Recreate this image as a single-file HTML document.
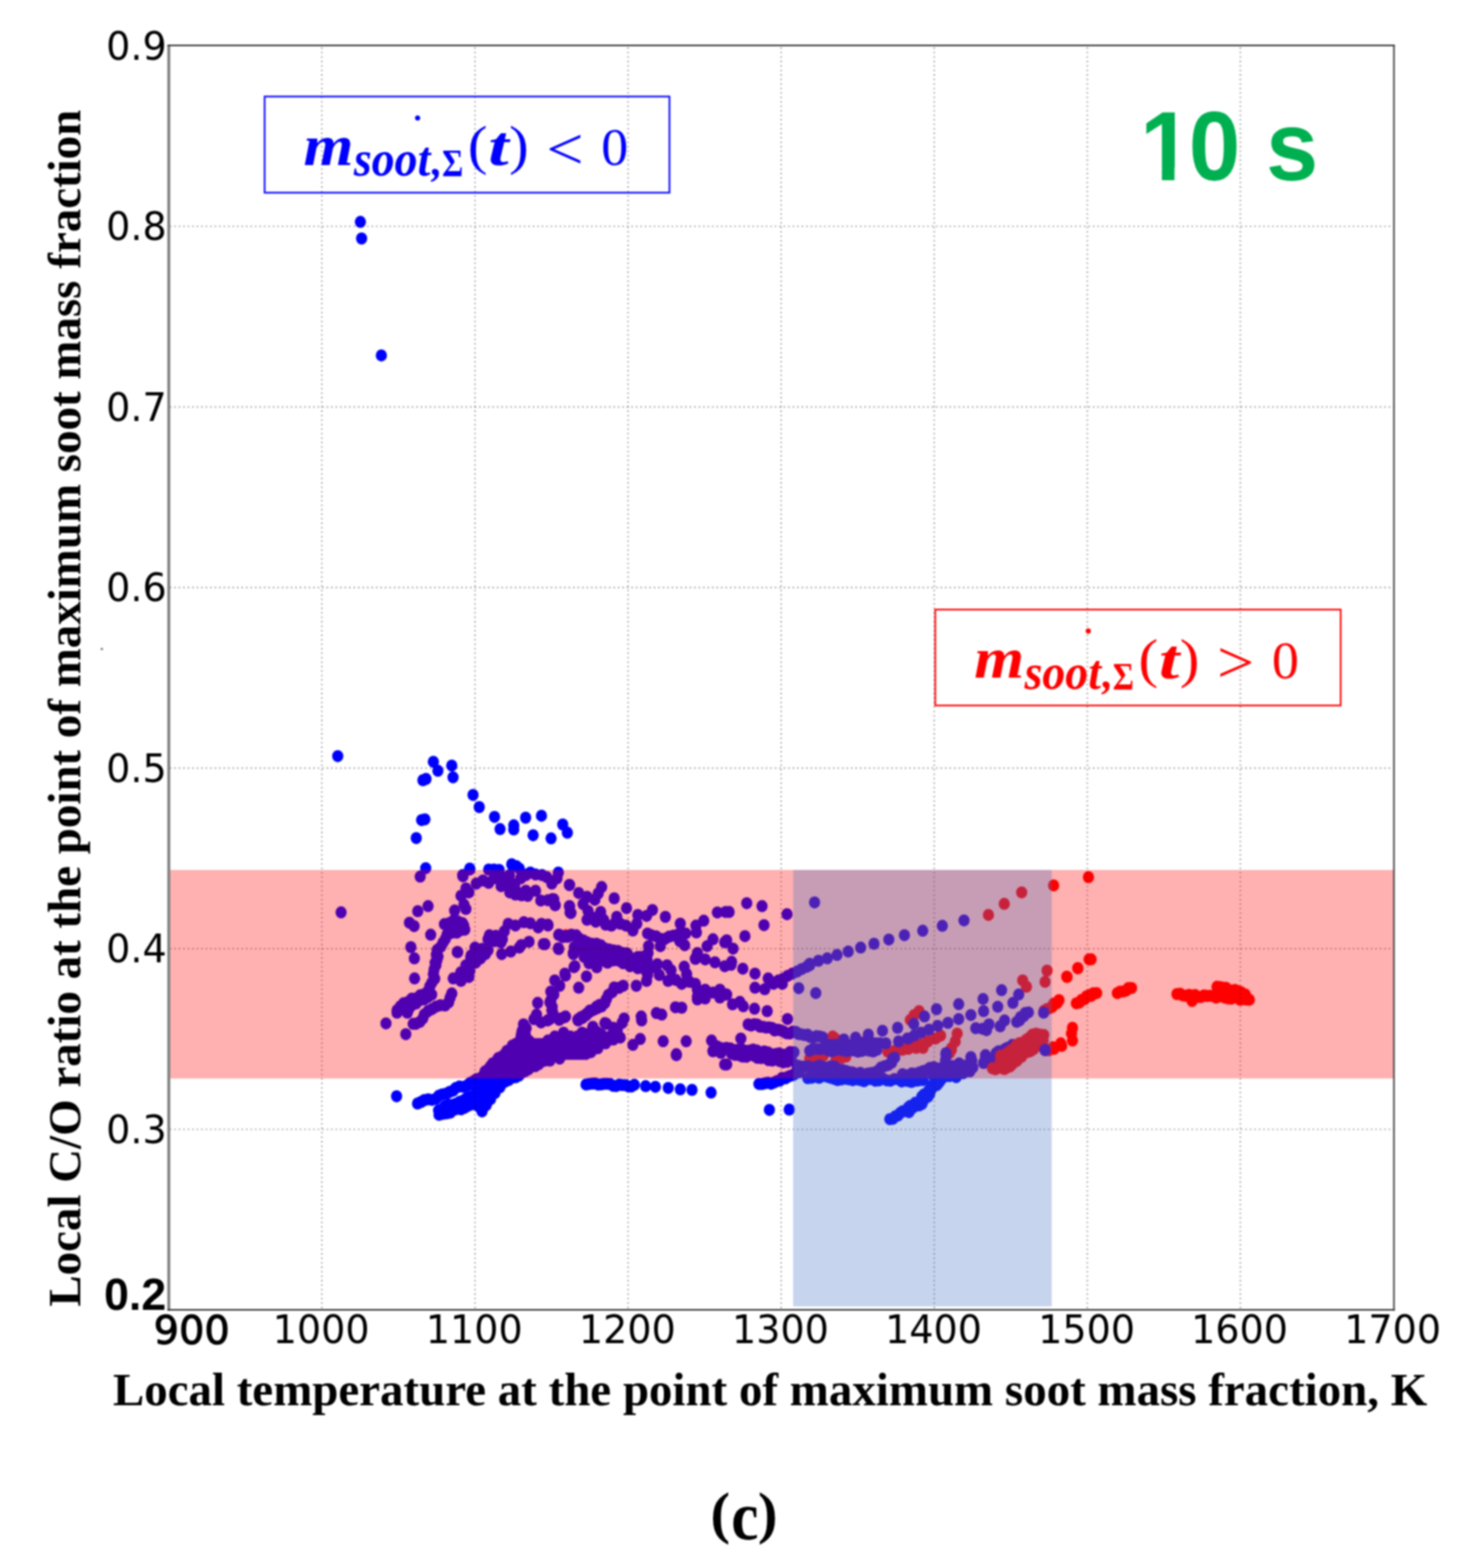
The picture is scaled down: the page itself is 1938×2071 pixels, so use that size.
<!DOCTYPE html>
<html lang="en"><head><meta charset="utf-8"><title>Local C/O ratio vs local temperature (c)</title>
<style>
html,body{margin:0;padding:0;background:#fff;}
body{width:1938px;height:2071px;overflow:hidden;}
svg{display:block;}
.tk{font-family:"DejaVu Sans","Liberation Sans",sans-serif;fill:#000;}
.tkb{font-family:"Liberation Sans","DejaVu Sans",sans-serif;font-weight:bold;fill:#000;}
.ax{font-family:"Liberation Serif","DejaVu Serif",serif;font-weight:bold;fill:#000;}
.mi{font-family:"Liberation Serif","DejaVu Serif",serif;font-weight:bold;font-style:italic;}
.mr{font-family:"Liberation Serif","DejaVu Serif",serif;}
.b{fill:#0000ff;}
.r{fill:#ff0000;}
</style></head><body>
<svg width="1938" height="2071" viewBox="0 0 1938 2071">
<defs><filter id="soft" x="0" y="0" width="1938" height="2071" filterUnits="userSpaceOnUse" color-interpolation-filters="sRGB"><feGaussianBlur stdDeviation="0.8"/></filter></defs>
<rect x="0" y="0" width="1938" height="2071" fill="#ffffff"/>
<g filter="url(#soft)">
<rect x="0" y="0" width="1938" height="2071" fill="#ffffff"/>
<g class="r"><ellipse cx="1305.8" cy="1208.4" rx="7.4" ry="8"/><ellipse cx="1326.7" cy="1193.8" rx="7.4" ry="8"/><ellipse cx="1349.7" cy="1178.7" rx="7.4" ry="8"/><ellipse cx="1391.9" cy="1169.4" rx="7.4" ry="8"/><ellipse cx="1437.9" cy="1158.5" rx="7.4" ry="8"/><ellipse cx="1441.5" cy="1267.1" rx="7.4" ry="8"/><ellipse cx="1423.9" cy="1278.7" rx="7.4" ry="8"/><ellipse cx="1409.2" cy="1290.0" rx="7.4" ry="8"/><ellipse cx="1383.2" cy="1282.0" rx="7.4" ry="8"/><ellipse cx="1380.6" cy="1296.8" rx="7.4" ry="8"/><ellipse cx="1351.0" cy="1294.9" rx="7.4" ry="8"/><ellipse cx="1356.1" cy="1303.3" rx="7.4" ry="8"/><ellipse cx="1409.7" cy="1290.4" rx="7.4" ry="8"/><ellipse cx="1423.9" cy="1278.8" rx="7.4" ry="8"/><ellipse cx="1438.7" cy="1267.2" rx="7.4" ry="8"/><ellipse cx="1416.8" cy="1357.5" rx="7.4" ry="8"/><ellipse cx="1415.5" cy="1365.2" rx="7.4" ry="8"/><ellipse cx="1416.8" cy="1374.3" rx="7.4" ry="8"/><ellipse cx="1401.3" cy="1378.1" rx="7.4" ry="8"/><ellipse cx="1391.0" cy="1383.3" rx="7.4" ry="8"/><ellipse cx="1385.8" cy="1387.2" rx="7.4" ry="8"/><ellipse cx="1264.5" cy="1365.2" rx="7.4" ry="8"/><ellipse cx="1261.9" cy="1375.5" rx="7.4" ry="8"/><ellipse cx="1256.8" cy="1384.6" rx="7.4" ry="8"/><ellipse cx="1254.2" cy="1391.0" rx="7.4" ry="8"/><ellipse cx="1214.2" cy="1335.5" rx="7.4" ry="8"/><ellipse cx="1207.7" cy="1340.7" rx="7.4" ry="8"/><ellipse cx="1202.6" cy="1347.2" rx="7.4" ry="8"/><ellipse cx="1242.6" cy="1367.8" rx="7.4" ry="8"/><ellipse cx="1236.1" cy="1371.7" rx="7.4" ry="8"/><ellipse cx="1225.8" cy="1375.5" rx="7.4" ry="8"/><ellipse cx="1215.5" cy="1379.4" rx="7.4" ry="8"/><ellipse cx="1205.2" cy="1382.0" rx="7.4" ry="8"/><ellipse cx="1200.0" cy="1384.6" rx="7.4" ry="8"/><ellipse cx="1574.8" cy="1322.0" rx="7.4" ry="8"/><ellipse cx="1069.7" cy="1398.2" rx="7.4" ry="8"/><ellipse cx="1078.7" cy="1396.9" rx="7.4" ry="8"/><ellipse cx="1087.7" cy="1394.3" rx="7.4" ry="8"/><ellipse cx="1104.5" cy="1399.5" rx="7.4" ry="8"/><ellipse cx="1112.3" cy="1396.9" rx="7.4" ry="8"/><ellipse cx="1117.4" cy="1395.6" rx="7.4" ry="8"/><ellipse cx="1172.9" cy="1389.2" rx="7.4" ry="8"/><ellipse cx="1181.9" cy="1387.9" rx="7.4" ry="8"/><ellipse cx="1192.3" cy="1386.6" rx="7.4" ry="8"/><ellipse cx="1200.0" cy="1385.3" rx="7.4" ry="8"/><ellipse cx="1256.8" cy="1386.6" rx="7.4" ry="8"/><ellipse cx="1200.0" cy="1384.0" rx="7.4" ry="8"/><ellipse cx="1210.3" cy="1384.0" rx="7.4" ry="8"/><ellipse cx="1219.4" cy="1384.0" rx="7.4" ry="8"/><ellipse cx="1392.3" cy="1385.3" rx="7.4" ry="8"/><ellipse cx="1402.6" cy="1381.4" rx="7.4" ry="8"/><ellipse cx="1100.0" cy="1369.1" rx="7.4" ry="8"/><ellipse cx="1103.2" cy="1371.7" rx="7.4" ry="8"/><ellipse cx="1131.6" cy="1378.1" rx="7.4" ry="8"/><ellipse cx="1136.8" cy="1376.8" rx="7.4" ry="8"/><ellipse cx="747.6" cy="1235.2" rx="7.4" ry="8"/><ellipse cx="1379.4" cy="1334.9" rx="7.4" ry="8"/><ellipse cx="1382.8" cy="1332.9" rx="7.4" ry="8"/><ellipse cx="1386.7" cy="1331.6" rx="7.4" ry="8"/><ellipse cx="1390.3" cy="1329.5" rx="7.4" ry="8"/><ellipse cx="1392.1" cy="1325.4" rx="7.4" ry="8"/><ellipse cx="1396.5" cy="1324.9" rx="7.4" ry="8"/><ellipse cx="1399.0" cy="1321.0" rx="7.4" ry="8"/><ellipse cx="1421.9" cy="1325.2" rx="7.4" ry="8"/><ellipse cx="1426.0" cy="1324.2" rx="7.4" ry="8"/><ellipse cx="1428.6" cy="1320.8" rx="7.4" ry="8"/><ellipse cx="1432.7" cy="1319.8" rx="7.4" ry="8"/><ellipse cx="1435.1" cy="1316.1" rx="7.4" ry="8"/><ellipse cx="1438.9" cy="1314.5" rx="7.4" ry="8"/><ellipse cx="1442.9" cy="1313.5" rx="7.4" ry="8"/><ellipse cx="1445.2" cy="1312.3" rx="7.4" ry="8"/><ellipse cx="1437.4" cy="1316.2" rx="7.4" ry="8"/><ellipse cx="1441.5" cy="1315.3" rx="7.4" ry="8"/><ellipse cx="1444.2" cy="1312.0" rx="7.4" ry="8"/><ellipse cx="1448.7" cy="1311.7" rx="7.4" ry="8"/><ellipse cx="1476.1" cy="1311.7" rx="7.4" ry="8"/><ellipse cx="1479.7" cy="1309.8" rx="7.4" ry="8"/><ellipse cx="1483.9" cy="1309.5" rx="7.4" ry="8"/><ellipse cx="1487.6" cy="1308.4" rx="7.4" ry="8"/><ellipse cx="1490.8" cy="1305.0" rx="7.4" ry="8"/><ellipse cx="1494.9" cy="1304.9" rx="7.4" ry="8"/><ellipse cx="1554.8" cy="1313.0" rx="7.4" ry="8"/><ellipse cx="1558.9" cy="1312.4" rx="7.4" ry="8"/><ellipse cx="1562.7" cy="1314.8" rx="7.4" ry="8"/><ellipse cx="1566.6" cy="1315.2" rx="7.4" ry="8"/><ellipse cx="1570.8" cy="1314.1" rx="7.4" ry="8"/><ellipse cx="1574.7" cy="1315.2" rx="7.4" ry="8"/><ellipse cx="1578.8" cy="1314.2" rx="7.4" ry="8"/><ellipse cx="1582.6" cy="1316.8" rx="7.4" ry="8"/><ellipse cx="1586.7" cy="1316.8" rx="7.4" ry="8"/><ellipse cx="1590.7" cy="1314.7" rx="7.4" ry="8"/><ellipse cx="1594.7" cy="1315.5" rx="7.4" ry="8"/><ellipse cx="1598.7" cy="1315.2" rx="7.4" ry="8"/><ellipse cx="1602.7" cy="1315.4" rx="7.4" ry="8"/><ellipse cx="1606.6" cy="1317.7" rx="7.4" ry="8"/><ellipse cx="1610.7" cy="1315.6" rx="7.4" ry="8"/><ellipse cx="1614.8" cy="1316.0" rx="7.4" ry="8"/><ellipse cx="1618.6" cy="1317.8" rx="7.4" ry="8"/><ellipse cx="1622.5" cy="1318.7" rx="7.4" ry="8"/><ellipse cx="1626.5" cy="1319.1" rx="7.4" ry="8"/><ellipse cx="1630.6" cy="1317.3" rx="7.4" ry="8"/><ellipse cx="1634.7" cy="1317.6" rx="7.4" ry="8"/><ellipse cx="1638.4" cy="1320.5" rx="7.4" ry="8"/><ellipse cx="1642.5" cy="1319.6" rx="7.4" ry="8"/><ellipse cx="1646.5" cy="1320.2" rx="7.4" ry="8"/><ellipse cx="1650.5" cy="1320.4" rx="7.4" ry="8"/><ellipse cx="1607.7" cy="1303.3" rx="7.4" ry="8"/><ellipse cx="1611.7" cy="1303.8" rx="7.4" ry="8"/><ellipse cx="1615.7" cy="1304.4" rx="7.4" ry="8"/><ellipse cx="1619.7" cy="1304.7" rx="7.4" ry="8"/><ellipse cx="1623.2" cy="1307.7" rx="7.4" ry="8"/><ellipse cx="1627.0" cy="1308.5" rx="7.4" ry="8"/><ellipse cx="1631.4" cy="1307.5" rx="7.4" ry="8"/><ellipse cx="1635.2" cy="1309.0" rx="7.4" ry="8"/><ellipse cx="1639.0" cy="1310.2" rx="7.4" ry="8"/><ellipse cx="1642.0" cy="1313.2" rx="7.4" ry="8"/><ellipse cx="1645.2" cy="1313.6" rx="7.4" ry="8"/></g>
<g class="b"><ellipse cx="476.1" cy="293.1" rx="7.4" ry="8"/><ellipse cx="477.7" cy="315.0" rx="7.4" ry="8"/><ellipse cx="503.8" cy="469.4" rx="7.4" ry="8"/><ellipse cx="450.6" cy="1205.1" rx="7.4" ry="8"/><ellipse cx="446.2" cy="998.7" rx="7.4" ry="8"/><ellipse cx="572.5" cy="1006.2" rx="7.4" ry="8"/><ellipse cx="578.5" cy="1018.1" rx="7.4" ry="8"/><ellipse cx="596.8" cy="1011.2" rx="7.4" ry="8"/><ellipse cx="598.5" cy="1026.7" rx="7.4" ry="8"/><ellipse cx="558.7" cy="1030.5" rx="7.4" ry="8"/><ellipse cx="562.8" cy="1028.8" rx="7.4" ry="8"/><ellipse cx="624.9" cy="1049.9" rx="7.4" ry="8"/><ellipse cx="633.1" cy="1066.0" rx="7.4" ry="8"/><ellipse cx="653.3" cy="1078.9" rx="7.4" ry="8"/><ellipse cx="660.6" cy="1095.1" rx="7.4" ry="8"/><ellipse cx="678.7" cy="1090.1" rx="7.4" ry="8"/><ellipse cx="678.7" cy="1095.5" rx="7.4" ry="8"/><ellipse cx="694.4" cy="1080.0" rx="7.4" ry="8"/><ellipse cx="715.3" cy="1077.4" rx="7.4" ry="8"/><ellipse cx="704.3" cy="1103.2" rx="7.4" ry="8"/><ellipse cx="728.0" cy="1107.3" rx="7.4" ry="8"/><ellipse cx="743.4" cy="1089.0" rx="7.4" ry="8"/><ellipse cx="749.5" cy="1099.8" rx="7.4" ry="8"/><ellipse cx="557.0" cy="1083.2" rx="7.4" ry="8"/><ellipse cx="561.3" cy="1082.2" rx="7.4" ry="8"/><ellipse cx="549.9" cy="1106.9" rx="7.4" ry="8"/><ellipse cx="562.4" cy="1146.7" rx="7.4" ry="8"/><ellipse cx="555.1" cy="1157.8" rx="7.4" ry="8"/><ellipse cx="565.5" cy="1196.8" rx="7.4" ry="8"/><ellipse cx="551.9" cy="1203.5" rx="7.4" ry="8"/><ellipse cx="540.9" cy="1218.7" rx="7.4" ry="8"/><ellipse cx="547.1" cy="1223.2" rx="7.4" ry="8"/><ellipse cx="569.0" cy="1234.6" rx="7.4" ry="8"/><ellipse cx="542.8" cy="1251.0" rx="7.4" ry="8"/><ellipse cx="547.4" cy="1265.8" rx="7.4" ry="8"/><ellipse cx="604.1" cy="1257.4" rx="7.4" ry="8"/><ellipse cx="620.6" cy="1148.4" rx="7.4" ry="8"/><ellipse cx="611.6" cy="1157.4" rx="7.4" ry="8"/><ellipse cx="615.5" cy="1173.5" rx="7.4" ry="8"/><ellipse cx="619.4" cy="1178.7" rx="7.4" ry="8"/><ellipse cx="609.0" cy="1183.2" rx="7.4" ry="8"/><ellipse cx="600.6" cy="1202.6" rx="7.4" ry="8"/><ellipse cx="615.5" cy="1200.6" rx="7.4" ry="8"/><ellipse cx="612.9" cy="1194.8" rx="7.4" ry="8"/><ellipse cx="596.1" cy="1225.2" rx="7.4" ry="8"/><ellipse cx="620.6" cy="1147.2" rx="7.4" ry="8"/><ellipse cx="611.2" cy="1155.8" rx="7.4" ry="8"/><ellipse cx="629.2" cy="1167.0" rx="7.4" ry="8"/><ellipse cx="638.0" cy="1163.0" rx="7.4" ry="8"/><ellipse cx="645.6" cy="1166.1" rx="7.4" ry="8"/><ellipse cx="645.6" cy="1148.5" rx="7.4" ry="8"/><ellipse cx="652.5" cy="1148.5" rx="7.4" ry="8"/><ellipse cx="659.4" cy="1148.9" rx="7.4" ry="8"/><ellipse cx="662.0" cy="1170.4" rx="7.4" ry="8"/><ellipse cx="669.0" cy="1164.0" rx="7.4" ry="8"/><ellipse cx="676.0" cy="1141.5" rx="7.4" ry="8"/><ellipse cx="682.0" cy="1144.0" rx="7.4" ry="8"/><ellipse cx="686.0" cy="1147.2" rx="7.4" ry="8"/><ellipse cx="673.0" cy="1156.0" rx="7.4" ry="8"/><ellipse cx="660.0" cy="1156.0" rx="7.4" ry="8"/><ellipse cx="680.9" cy="1181.6" rx="7.4" ry="8"/><ellipse cx="694.6" cy="1176.5" rx="7.4" ry="8"/><ellipse cx="697.2" cy="1183.3" rx="7.4" ry="8"/><ellipse cx="707.5" cy="1176.5" rx="7.4" ry="8"/><ellipse cx="714.4" cy="1189.4" rx="7.4" ry="8"/><ellipse cx="729.9" cy="1187.6" rx="7.4" ry="8"/><ellipse cx="733.3" cy="1195.4" rx="7.4" ry="8"/><ellipse cx="694.6" cy="1155.8" rx="7.4" ry="8"/><ellipse cx="700.6" cy="1152.4" rx="7.4" ry="8"/><ellipse cx="707.5" cy="1155.0" rx="7.4" ry="8"/><ellipse cx="716.1" cy="1155.8" rx="7.4" ry="8"/><ellipse cx="722.1" cy="1158.4" rx="7.4" ry="8"/><ellipse cx="729.0" cy="1167.0" rx="7.4" ry="8"/><ellipse cx="737.6" cy="1152.4" rx="7.4" ry="8"/><ellipse cx="735.9" cy="1160.1" rx="7.4" ry="8"/><ellipse cx="752.3" cy="1168.7" rx="7.4" ry="8"/><ellipse cx="752.3" cy="1197.1" rx="7.4" ry="8"/><ellipse cx="754.0" cy="1205.7" rx="7.4" ry="8"/><ellipse cx="653.0" cy="1160.0" rx="7.4" ry="8"/><ellipse cx="688.0" cy="1160.0" rx="7.4" ry="8"/><ellipse cx="680.0" cy="1168.0" rx="7.4" ry="8"/><ellipse cx="752.3" cy="1169.0" rx="7.4" ry="8"/><ellipse cx="764.5" cy="1179.4" rx="7.4" ry="8"/><ellipse cx="775.5" cy="1184.5" rx="7.4" ry="8"/><ellipse cx="794.8" cy="1171.6" rx="7.4" ry="8"/><ellipse cx="790.3" cy="1180.0" rx="7.4" ry="8"/><ellipse cx="785.8" cy="1188.4" rx="7.4" ry="8"/><ellipse cx="811.4" cy="1186.5" rx="7.4" ry="8"/><ellipse cx="827.7" cy="1199.4" rx="7.4" ry="8"/><ellipse cx="731.6" cy="1187.7" rx="7.4" ry="8"/><ellipse cx="733.5" cy="1195.5" rx="7.4" ry="8"/><ellipse cx="723.9" cy="1189.0" rx="7.4" ry="8"/><ellipse cx="752.3" cy="1196.8" rx="7.4" ry="8"/><ellipse cx="754.2" cy="1205.8" rx="7.4" ry="8"/><ellipse cx="770.3" cy="1194.2" rx="7.4" ry="8"/><ellipse cx="776.8" cy="1203.2" rx="7.4" ry="8"/><ellipse cx="775.5" cy="1214.8" rx="7.4" ry="8"/><ellipse cx="793.5" cy="1204.5" rx="7.4" ry="8"/><ellipse cx="797.4" cy="1214.8" rx="7.4" ry="8"/><ellipse cx="800.0" cy="1221.3" rx="7.4" ry="8"/><ellipse cx="814.8" cy="1211.0" rx="7.4" ry="8"/><ellipse cx="812.9" cy="1218.7" rx="7.4" ry="8"/><ellipse cx="827.1" cy="1222.6" rx="7.4" ry="8"/><ellipse cx="836.1" cy="1229.0" rx="7.4" ry="8"/><ellipse cx="841.3" cy="1220.0" rx="7.4" ry="8"/><ellipse cx="842.6" cy="1208.4" rx="7.4" ry="8"/><ellipse cx="854.2" cy="1209.7" rx="7.4" ry="8"/><ellipse cx="861.9" cy="1201.9" rx="7.4" ry="8"/><ellipse cx="879.0" cy="1211.0" rx="7.4" ry="8"/><ellipse cx="898.7" cy="1220.0" rx="7.4" ry="8"/><ellipse cx="929.7" cy="1216.1" rx="7.4" ry="8"/><ellipse cx="919.4" cy="1222.6" rx="7.4" ry="8"/><ellipse cx="920.0" cy="1231.6" rx="7.4" ry="8"/><ellipse cx="947.7" cy="1205.2" rx="7.4" ry="8"/><ellipse cx="958.7" cy="1204.5" rx="7.4" ry="8"/><ellipse cx="723.9" cy="1221.3" rx="7.4" ry="8"/><ellipse cx="738.1" cy="1253.5" rx="7.4" ry="8"/><ellipse cx="757.4" cy="1258.7" rx="7.4" ry="8"/><ellipse cx="856.8" cy="1249.7" rx="7.4" ry="8"/><ellipse cx="872.3" cy="1249.7" rx="7.4" ry="8"/><ellipse cx="941.9" cy="1240.6" rx="7.4" ry="8"/><ellipse cx="934.2" cy="1249.7" rx="7.4" ry="8"/><ellipse cx="957.4" cy="1244.5" rx="7.4" ry="8"/><ellipse cx="921.3" cy="1258.7" rx="7.4" ry="8"/><ellipse cx="918.7" cy="1266.5" rx="7.4" ry="8"/><ellipse cx="720.0" cy="1247.1" rx="7.4" ry="8"/><ellipse cx="784.5" cy="1212.3" rx="7.4" ry="8"/><ellipse cx="787.1" cy="1217.4" rx="7.4" ry="8"/><ellipse cx="807.7" cy="1222.6" rx="7.4" ry="8"/><ellipse cx="819.4" cy="1220.0" rx="7.4" ry="8"/><ellipse cx="898.1" cy="1243.2" rx="7.4" ry="8"/><ellipse cx="904.5" cy="1248.4" rx="7.4" ry="8"/><ellipse cx="986.5" cy="1192.9" rx="7.4" ry="8"/><ellipse cx="1006.7" cy="1196.8" rx="7.4" ry="8"/><ellipse cx="963.2" cy="1204.5" rx="7.4" ry="8"/><ellipse cx="1039.7" cy="1207.4" rx="7.4" ry="8"/><ellipse cx="1076.1" cy="1191.9" rx="7.4" ry="8"/><ellipse cx="1009.3" cy="1221.9" rx="7.4" ry="8"/><ellipse cx="984.1" cy="1236.4" rx="7.4" ry="8"/><ellipse cx="968.4" cy="1252.9" rx="7.4" ry="8"/><ellipse cx="960.0" cy="1241.9" rx="7.4" ry="8"/><ellipse cx="966.5" cy="1270.3" rx="7.4" ry="8"/><ellipse cx="1194.8" cy="1235.2" rx="7.4" ry="8"/><ellipse cx="1174.2" cy="1240.9" rx="7.4" ry="8"/><ellipse cx="1154.6" cy="1246.5" rx="7.4" ry="8"/><ellipse cx="1137.0" cy="1251.6" rx="7.4" ry="8"/><ellipse cx="1120.6" cy="1256.8" rx="7.4" ry="8"/><ellipse cx="1105.8" cy="1261.3" rx="7.4" ry="8"/><ellipse cx="1092.9" cy="1265.8" rx="7.4" ry="8"/><ellipse cx="1081.3" cy="1269.0" rx="7.4" ry="8"/><ellipse cx="1069.7" cy="1272.9" rx="7.4" ry="8"/><ellipse cx="1219.0" cy="1229.3" rx="7.4" ry="8"/><ellipse cx="1244.9" cy="1222.8" rx="7.4" ry="8"/><ellipse cx="1273.5" cy="1215.7" rx="7.4" ry="8"/><ellipse cx="547.7" cy="1292.3" rx="7.4" ry="8"/><ellipse cx="509.9" cy="1351.7" rx="7.4" ry="8"/><ellipse cx="536.1" cy="1365.9" rx="7.4" ry="8"/><ellipse cx="596.8" cy="1312.3" rx="7.4" ry="8"/><ellipse cx="710.3" cy="1324.6" rx="7.4" ry="8"/><ellipse cx="598.7" cy="1292.3" rx="7.4" ry="8"/><ellipse cx="609.0" cy="1295.5" rx="7.4" ry="8"/><ellipse cx="619.4" cy="1290.4" rx="7.4" ry="8"/><ellipse cx="620.6" cy="1282.6" rx="7.4" ry="8"/><ellipse cx="609.0" cy="1285.2" rx="7.4" ry="8"/><ellipse cx="615.5" cy="1274.9" rx="7.4" ry="8"/><ellipse cx="624.5" cy="1269.7" rx="7.4" ry="8"/><ellipse cx="634.8" cy="1265.9" rx="7.4" ry="8"/><ellipse cx="621.9" cy="1264.6" rx="7.4" ry="8"/><ellipse cx="632.3" cy="1262.0" rx="7.4" ry="8"/><ellipse cx="759.4" cy="1276.2" rx="7.4" ry="8"/><ellipse cx="774.8" cy="1289.7" rx="7.4" ry="8"/><ellipse cx="764.5" cy="1304.6" rx="7.4" ry="8"/><ellipse cx="747.1" cy="1288.5" rx="7.4" ry="8"/><ellipse cx="732.9" cy="1294.9" rx="7.4" ry="8"/><ellipse cx="739.4" cy="1302.0" rx="7.4" ry="8"/><ellipse cx="727.7" cy="1309.7" rx="7.4" ry="8"/><ellipse cx="731.6" cy="1313.6" rx="7.4" ry="8"/><ellipse cx="726.5" cy="1323.9" rx="7.4" ry="8"/><ellipse cx="729.0" cy="1334.3" rx="7.4" ry="8"/><ellipse cx="726.5" cy="1345.9" rx="7.4" ry="8"/><ellipse cx="840.6" cy="1302.0" rx="7.4" ry="8"/><ellipse cx="740.6" cy="1345.2" rx="7.4" ry="8"/><ellipse cx="747.1" cy="1342.6" rx="7.4" ry="8"/><ellipse cx="847.1" cy="1342.6" rx="7.4" ry="8"/><ellipse cx="847.7" cy="1347.8" rx="7.4" ry="8"/><ellipse cx="867.1" cy="1338.1" rx="7.4" ry="8"/><ellipse cx="874.2" cy="1340.1" rx="7.4" ry="8"/><ellipse cx="892.3" cy="1330.4" rx="7.4" ry="8"/><ellipse cx="900.6" cy="1331.0" rx="7.4" ry="8"/><ellipse cx="824.5" cy="1345.2" rx="7.4" ry="8"/><ellipse cx="821.9" cy="1351.0" rx="7.4" ry="8"/><ellipse cx="801.3" cy="1352.3" rx="7.4" ry="8"/><ellipse cx="810.3" cy="1357.5" rx="7.4" ry="8"/><ellipse cx="815.5" cy="1360.1" rx="7.4" ry="8"/><ellipse cx="783.2" cy="1356.2" rx="7.4" ry="8"/><ellipse cx="789.7" cy="1363.9" rx="7.4" ry="8"/><ellipse cx="769.0" cy="1363.9" rx="7.4" ry="8"/><ellipse cx="845.8" cy="1372.3" rx="7.4" ry="8"/><ellipse cx="836.1" cy="1380.1" rx="7.4" ry="8"/><ellipse cx="876.1" cy="1375.3" rx="7.4" ry="8"/><ellipse cx="906.5" cy="1375.3" rx="7.4" ry="8"/><ellipse cx="893.5" cy="1392.3" rx="7.4" ry="8"/><ellipse cx="940.0" cy="1374.3" rx="7.4" ry="8"/><ellipse cx="947.1" cy="1382.0" rx="7.4" ry="8"/><ellipse cx="953.5" cy="1384.6" rx="7.4" ry="8"/><ellipse cx="941.9" cy="1388.5" rx="7.4" ry="8"/><ellipse cx="918.7" cy="1265.9" rx="7.4" ry="8"/><ellipse cx="931.6" cy="1267.2" rx="7.4" ry="8"/><ellipse cx="944.5" cy="1271.0" rx="7.4" ry="8"/><ellipse cx="957.4" cy="1276.2" rx="7.4" ry="8"/><ellipse cx="778.1" cy="1272.3" rx="7.4" ry="8"/><ellipse cx="788.4" cy="1277.5" rx="7.4" ry="8"/><ellipse cx="797.4" cy="1268.5" rx="7.4" ry="8"/><ellipse cx="810.3" cy="1268.5" rx="7.4" ry="8"/><ellipse cx="823.2" cy="1272.3" rx="7.4" ry="8"/><ellipse cx="832.3" cy="1276.2" rx="7.4" ry="8"/><ellipse cx="842.6" cy="1278.8" rx="7.4" ry="8"/><ellipse cx="852.9" cy="1281.4" rx="7.4" ry="8"/><ellipse cx="855.5" cy="1287.8" rx="7.4" ry="8"/><ellipse cx="854.2" cy="1295.5" rx="7.4" ry="8"/><ellipse cx="868.4" cy="1273.6" rx="7.4" ry="8"/><ellipse cx="871.0" cy="1287.8" rx="7.4" ry="8"/><ellipse cx="881.3" cy="1274.9" rx="7.4" ry="8"/><ellipse cx="886.5" cy="1281.4" rx="7.4" ry="8"/><ellipse cx="882.6" cy="1295.5" rx="7.4" ry="8"/><ellipse cx="892.9" cy="1294.3" rx="7.4" ry="8"/><ellipse cx="903.9" cy="1276.8" rx="7.4" ry="8"/><ellipse cx="907.1" cy="1286.5" rx="7.4" ry="8"/><ellipse cx="900.6" cy="1299.4" rx="7.4" ry="8"/><ellipse cx="911.0" cy="1296.8" rx="7.4" ry="8"/><ellipse cx="918.7" cy="1299.4" rx="7.4" ry="8"/><ellipse cx="921.3" cy="1307.2" rx="7.4" ry="8"/><ellipse cx="921.3" cy="1316.2" rx="7.4" ry="8"/><ellipse cx="921.3" cy="1320.1" rx="7.4" ry="8"/><ellipse cx="931.6" cy="1307.2" rx="7.4" ry="8"/><ellipse cx="931.6" cy="1318.8" rx="7.4" ry="8"/><ellipse cx="941.9" cy="1311.0" rx="7.4" ry="8"/><ellipse cx="951.0" cy="1307.2" rx="7.4" ry="8"/><ellipse cx="951.0" cy="1317.5" rx="7.4" ry="8"/><ellipse cx="958.7" cy="1313.6" rx="7.4" ry="8"/><ellipse cx="784.5" cy="1264.6" rx="7.4" ry="8"/><ellipse cx="836.1" cy="1267.2" rx="7.4" ry="8"/><ellipse cx="849.0" cy="1269.7" rx="7.4" ry="8"/><ellipse cx="861.9" cy="1277.5" rx="7.4" ry="8"/><ellipse cx="744.5" cy="1363.9" rx="7.4" ry="8"/><ellipse cx="732.9" cy="1369.1" rx="7.4" ry="8"/><ellipse cx="723.9" cy="1374.3" rx="7.4" ry="8"/><ellipse cx="753.5" cy="1369.1" rx="7.4" ry="8"/><ellipse cx="762.6" cy="1369.1" rx="7.4" ry="8"/><ellipse cx="774.2" cy="1369.1" rx="7.4" ry="8"/><ellipse cx="787.1" cy="1371.7" rx="7.4" ry="8"/><ellipse cx="797.4" cy="1369.1" rx="7.4" ry="8"/><ellipse cx="807.7" cy="1367.8" rx="7.4" ry="8"/><ellipse cx="819.4" cy="1370.4" rx="7.4" ry="8"/><ellipse cx="800.0" cy="1378.1" rx="7.4" ry="8"/><ellipse cx="789.7" cy="1384.6" rx="7.4" ry="8"/><ellipse cx="780.6" cy="1389.7" rx="7.4" ry="8"/><ellipse cx="745.8" cy="1378.1" rx="7.4" ry="8"/><ellipse cx="732.9" cy="1384.6" rx="7.4" ry="8"/><ellipse cx="758.7" cy="1387.2" rx="7.4" ry="8"/><ellipse cx="771.6" cy="1391.0" rx="7.4" ry="8"/><ellipse cx="739.4" cy="1374.3" rx="7.4" ry="8"/><ellipse cx="727.7" cy="1380.7" rx="7.4" ry="8"/><ellipse cx="749.7" cy="1387.2" rx="7.4" ry="8"/><ellipse cx="778.1" cy="1380.7" rx="7.4" ry="8"/><ellipse cx="787.1" cy="1378.1" rx="7.4" ry="8"/><ellipse cx="810.3" cy="1373.0" rx="7.4" ry="8"/><ellipse cx="965.8" cy="1274.3" rx="7.4" ry="8"/><ellipse cx="981.3" cy="1279.4" rx="7.4" ry="8"/><ellipse cx="997.4" cy="1285.9" rx="7.4" ry="8"/><ellipse cx="1014.8" cy="1292.3" rx="7.4" ry="8"/><ellipse cx="997.4" cy="1304.6" rx="7.4" ry="8"/><ellipse cx="1010.3" cy="1306.5" rx="7.4" ry="8"/><ellipse cx="1021.9" cy="1299.4" rx="7.4" ry="8"/><ellipse cx="1033.5" cy="1299.4" rx="7.4" ry="8"/><ellipse cx="1055.2" cy="1305.2" rx="7.4" ry="8"/><ellipse cx="1077.7" cy="1311.7" rx="7.4" ry="8"/><ellipse cx="960.0" cy="1313.6" rx="7.4" ry="8"/><ellipse cx="967.7" cy="1326.5" rx="7.4" ry="8"/><ellipse cx="977.4" cy="1323.3" rx="7.4" ry="8"/><ellipse cx="981.9" cy="1329.1" rx="7.4" ry="8"/><ellipse cx="996.8" cy="1332.3" rx="7.4" ry="8"/><ellipse cx="1013.5" cy="1335.5" rx="7.4" ry="8"/><ellipse cx="1040.3" cy="1345.9" rx="7.4" ry="8"/><ellipse cx="978.7" cy="1371.7" rx="7.4" ry="8"/><ellipse cx="1114.8" cy="1373.0" rx="7.4" ry="8"/><ellipse cx="1130.3" cy="1370.4" rx="7.4" ry="8"/><ellipse cx="1147.1" cy="1366.5" rx="7.4" ry="8"/><ellipse cx="1165.8" cy="1361.4" rx="7.4" ry="8"/><ellipse cx="1185.8" cy="1357.5" rx="7.4" ry="8"/><ellipse cx="1170.3" cy="1378.1" rx="7.4" ry="8"/><ellipse cx="1187.1" cy="1375.5" rx="7.4" ry="8"/><ellipse cx="1198.7" cy="1371.7" rx="7.4" ry="8"/><ellipse cx="1207.1" cy="1352.3" rx="7.4" ry="8"/><ellipse cx="1221.3" cy="1342.6" rx="7.4" ry="8"/><ellipse cx="1237.2" cy="1333.0" rx="7.4" ry="8"/><ellipse cx="1266.5" cy="1326.3" rx="7.4" ry="8"/><ellipse cx="1298.7" cy="1319.4" rx="7.4" ry="8"/><ellipse cx="1323.2" cy="1307.8" rx="7.4" ry="8"/><ellipse cx="1345.8" cy="1313.6" rx="7.4" ry="8"/><ellipse cx="1338.1" cy="1324.6" rx="7.4" ry="8"/><ellipse cx="1318.1" cy="1329.7" rx="7.4" ry="8"/><ellipse cx="1299.4" cy="1335.5" rx="7.4" ry="8"/><ellipse cx="1282.6" cy="1340.7" rx="7.4" ry="8"/><ellipse cx="1266.5" cy="1345.9" rx="7.4" ry="8"/><ellipse cx="1252.3" cy="1351.0" rx="7.4" ry="8"/><ellipse cx="1238.7" cy="1354.9" rx="7.4" ry="8"/><ellipse cx="1227.1" cy="1360.1" rx="7.4" ry="8"/><ellipse cx="1216.8" cy="1363.9" rx="7.4" ry="8"/><ellipse cx="1207.7" cy="1367.8" rx="7.4" ry="8"/><ellipse cx="1200.0" cy="1371.7" rx="7.4" ry="8"/><ellipse cx="1289.0" cy="1358.1" rx="7.4" ry="8"/><ellipse cx="1298.1" cy="1358.8" rx="7.4" ry="8"/><ellipse cx="1303.2" cy="1360.7" rx="7.4" ry="8"/><ellipse cx="1306.5" cy="1353.0" rx="7.4" ry="8"/><ellipse cx="1321.3" cy="1355.5" rx="7.4" ry="8"/><ellipse cx="1327.1" cy="1347.8" rx="7.4" ry="8"/><ellipse cx="1378.7" cy="1337.5" rx="7.4" ry="8"/><ellipse cx="1249.7" cy="1391.0" rx="7.4" ry="8"/><ellipse cx="1301.9" cy="1393.6" rx="7.4" ry="8"/><ellipse cx="1282.6" cy="1396.2" rx="7.4" ry="8"/><ellipse cx="523.9" cy="1447.9" rx="7.4" ry="8"/><ellipse cx="852.9" cy="1434.6" rx="7.4" ry="8"/><ellipse cx="865.8" cy="1435.4" rx="7.4" ry="8"/><ellipse cx="882.8" cy="1436.9" rx="7.4" ry="8"/><ellipse cx="898.7" cy="1438.8" rx="7.4" ry="8"/><ellipse cx="914.2" cy="1439.5" rx="7.4" ry="8"/><ellipse cx="939.4" cy="1443.1" rx="7.4" ry="8"/><ellipse cx="893.5" cy="1393.7" rx="7.4" ry="8"/><ellipse cx="941.9" cy="1387.9" rx="7.4" ry="8"/><ellipse cx="952.3" cy="1390.5" rx="7.4" ry="8"/><ellipse cx="957.4" cy="1405.9" rx="7.4" ry="8"/><ellipse cx="726.5" cy="1400.8" rx="7.4" ry="8"/><ellipse cx="739.4" cy="1398.2" rx="7.4" ry="8"/><ellipse cx="758.7" cy="1390.5" rx="7.4" ry="8"/><ellipse cx="771.6" cy="1389.2" rx="7.4" ry="8"/><ellipse cx="784.5" cy="1384.0" rx="7.4" ry="8"/><ellipse cx="1016.4" cy="1465.9" rx="7.4" ry="8"/><ellipse cx="1042.6" cy="1465.5" rx="7.4" ry="8"/><ellipse cx="960.0" cy="1405.9" rx="7.4" ry="8"/><ellipse cx="1192.3" cy="1418.8" rx="7.4" ry="8"/><ellipse cx="1249.7" cy="1393.7" rx="7.4" ry="8"/><ellipse cx="1249.0" cy="1400.8" rx="7.4" ry="8"/><ellipse cx="1232.3" cy="1419.5" rx="7.4" ry="8"/><ellipse cx="1263.2" cy="1414.3" rx="7.4" ry="8"/><ellipse cx="1267.1" cy="1404.6" rx="7.4" ry="8"/><ellipse cx="1276.1" cy="1407.2" rx="7.4" ry="8"/><ellipse cx="1283.9" cy="1400.8" rx="7.4" ry="8"/><ellipse cx="1285.2" cy="1409.8" rx="7.4" ry="8"/><ellipse cx="1301.9" cy="1396.9" rx="7.4" ry="8"/><ellipse cx="1299.4" cy="1404.0" rx="7.4" ry="8"/><ellipse cx="1263.2" cy="1422.7" rx="7.4" ry="8"/><ellipse cx="1254.2" cy="1421.4" rx="7.4" ry="8"/><ellipse cx="1246.5" cy="1422.7" rx="7.4" ry="8"/><ellipse cx="1272.3" cy="1417.5" rx="7.4" ry="8"/><ellipse cx="1281.3" cy="1415.0" rx="7.4" ry="8"/><ellipse cx="671.4" cy="1220.2" rx="7.4" ry="8"/><ellipse cx="680.9" cy="1222.4" rx="7.4" ry="8"/><ellipse cx="692.0" cy="1218.1" rx="7.4" ry="8"/><ellipse cx="700.6" cy="1219.4" rx="7.4" ry="8"/><ellipse cx="711.0" cy="1224.9" rx="7.4" ry="8"/><ellipse cx="715.3" cy="1220.2" rx="7.4" ry="8"/><ellipse cx="723.9" cy="1222.4" rx="7.4" ry="8"/><ellipse cx="646.5" cy="1235.3" rx="7.4" ry="8"/><ellipse cx="655.1" cy="1236.1" rx="7.4" ry="8"/><ellipse cx="644.7" cy="1240.4" rx="7.4" ry="8"/><ellipse cx="653.3" cy="1243.0" rx="7.4" ry="8"/><ellipse cx="663.7" cy="1240.4" rx="7.4" ry="8"/><ellipse cx="666.2" cy="1230.1" rx="7.4" ry="8"/><ellipse cx="661.9" cy="1244.7" rx="7.4" ry="8"/><ellipse cx="627.5" cy="1251.6" rx="7.4" ry="8"/><ellipse cx="637.0" cy="1253.3" rx="7.4" ry="8"/><ellipse cx="644.7" cy="1255.1" rx="7.4" ry="8"/><ellipse cx="622.4" cy="1261.9" rx="7.4" ry="8"/><ellipse cx="632.7" cy="1263.7" rx="7.4" ry="8"/><ellipse cx="641.3" cy="1260.2" rx="7.4" ry="8"/><ellipse cx="619.8" cy="1273.1" rx="7.4" ry="8"/><ellipse cx="628.4" cy="1271.4" rx="7.4" ry="8"/><ellipse cx="617.2" cy="1281.7" rx="7.4" ry="8"/><ellipse cx="608.6" cy="1284.3" rx="7.4" ry="8"/><ellipse cx="662.8" cy="1260.2" rx="7.4" ry="8"/><ellipse cx="674.8" cy="1256.8" rx="7.4" ry="8"/><ellipse cx="686.0" cy="1251.6" rx="7.4" ry="8"/><ellipse cx="688.6" cy="1248.2" rx="7.4" ry="8"/><ellipse cx="698.9" cy="1243.9" rx="7.4" ry="8"/><ellipse cx="717.8" cy="1246.9" rx="7.4" ry="8"/><ellipse cx="738.5" cy="1234.4" rx="7.4" ry="8"/><ellipse cx="746.2" cy="1237.0" rx="7.4" ry="8"/><ellipse cx="754.8" cy="1234.4" rx="7.4" ry="8"/><ellipse cx="737.6" cy="1252.5" rx="7.4" ry="8"/><ellipse cx="759.1" cy="1251.6" rx="7.4" ry="8"/><ellipse cx="757.4" cy="1260.2" rx="7.4" ry="8"/><ellipse cx="611.2" cy="1219.8" rx="7.4" ry="8"/><ellipse cx="608.6" cy="1228.4" rx="7.4" ry="8"/><ellipse cx="603.4" cy="1231.8" rx="7.4" ry="8"/><ellipse cx="604.7" cy="1257.6" rx="7.4" ry="8"/><ellipse cx="753.1" cy="1205.2" rx="7.4" ry="8"/><ellipse cx="758.3" cy="1277.4" rx="7.4" ry="8"/><ellipse cx="746.2" cy="1286.0" rx="7.4" ry="8"/><ellipse cx="671.0" cy="1165.8" rx="7.4" ry="8"/><ellipse cx="681.3" cy="1176.1" rx="7.4" ry="8"/><ellipse cx="689.0" cy="1182.6" rx="7.4" ry="8"/><ellipse cx="673.5" cy="1178.7" rx="7.4" ry="8"/><ellipse cx="694.2" cy="1155.5" rx="7.4" ry="8"/><ellipse cx="758.7" cy="1251.0" rx="7.4" ry="8"/><ellipse cx="769.0" cy="1253.5" rx="7.4" ry="8"/><ellipse cx="778.1" cy="1256.1" rx="7.4" ry="8"/><ellipse cx="788.4" cy="1260.0" rx="7.4" ry="8"/><ellipse cx="797.4" cy="1263.9" rx="7.4" ry="8"/><ellipse cx="807.7" cy="1266.5" rx="7.4" ry="8"/><ellipse cx="818.1" cy="1269.0" rx="7.4" ry="8"/><ellipse cx="771.6" cy="1263.9" rx="7.4" ry="8"/><ellipse cx="781.9" cy="1269.0" rx="7.4" ry="8"/><ellipse cx="836.1" cy="1269.0" rx="7.4" ry="8"/><ellipse cx="842.6" cy="1263.9" rx="7.4" ry="8"/><ellipse cx="849.0" cy="1269.0" rx="7.4" ry="8"/><ellipse cx="828.4" cy="1269.0" rx="7.4" ry="8"/><ellipse cx="792.3" cy="1269.0" rx="7.4" ry="8"/><ellipse cx="802.6" cy="1271.6" rx="7.4" ry="8"/><ellipse cx="729.5" cy="1312.6" rx="7.4" ry="8"/><ellipse cx="727.7" cy="1321.2" rx="7.4" ry="8"/><ellipse cx="729.5" cy="1329.8" rx="7.4" ry="8"/><ellipse cx="730.3" cy="1337.5" rx="7.4" ry="8"/><ellipse cx="745.8" cy="1343.5" rx="7.4" ry="8"/><ellipse cx="738.9" cy="1347.0" rx="7.4" ry="8"/><ellipse cx="708.8" cy="1340.1" rx="7.4" ry="8"/><ellipse cx="705.4" cy="1346.1" rx="7.4" ry="8"/><ellipse cx="714.8" cy="1350.4" rx="7.4" ry="8"/><ellipse cx="723.4" cy="1347.8" rx="7.4" ry="8"/><ellipse cx="691.6" cy="1353.0" rx="7.4" ry="8"/><ellipse cx="689.9" cy="1361.6" rx="7.4" ry="8"/><ellipse cx="695.1" cy="1358.2" rx="7.4" ry="8"/><ellipse cx="688.2" cy="1370.2" rx="7.4" ry="8"/><ellipse cx="782.8" cy="1358.2" rx="7.4" ry="8"/><ellipse cx="769.0" cy="1365.9" rx="7.4" ry="8"/><ellipse cx="799.1" cy="1351.3" rx="7.4" ry="8"/><ellipse cx="638.7" cy="1451.1" rx="7.4" ry="8"/><ellipse cx="643.9" cy="1443.4" rx="7.4" ry="8"/><ellipse cx="647.7" cy="1436.9" rx="7.4" ry="8"/><ellipse cx="634.8" cy="1456.3" rx="7.4" ry="8"/><ellipse cx="632.3" cy="1461.4" rx="7.4" ry="8"/><ellipse cx="856.1" cy="1258.7" rx="7.4" ry="8"/><ellipse cx="854.8" cy="1267.7" rx="7.4" ry="8"/><ellipse cx="847.1" cy="1263.9" rx="7.4" ry="8"/><ellipse cx="746.5" cy="1236.6" rx="7.4" ry="8"/><ellipse cx="587.1" cy="1220.6" rx="7.4" ry="8"/><ellipse cx="593.0" cy="1219.4" rx="7.4" ry="8"/><ellipse cx="598.4" cy="1216.4" rx="7.4" ry="8"/><ellipse cx="604.7" cy="1217.0" rx="7.4" ry="8"/><ellipse cx="610.6" cy="1219.3" rx="7.4" ry="8"/><ellipse cx="612.7" cy="1223.0" rx="7.4" ry="8"/><ellipse cx="614.0" cy="1227.9" rx="7.4" ry="8"/><ellipse cx="608.0" cy="1228.5" rx="7.4" ry="8"/><ellipse cx="602.1" cy="1229.8" rx="7.4" ry="8"/><ellipse cx="596.5" cy="1232.2" rx="7.4" ry="8"/><ellipse cx="590.6" cy="1234.2" rx="7.4" ry="8"/><ellipse cx="588.4" cy="1240.2" rx="7.4" ry="8"/><ellipse cx="585.2" cy="1245.1" rx="7.4" ry="8"/><ellipse cx="582.4" cy="1250.3" rx="7.4" ry="8"/><ellipse cx="577.6" cy="1254.6" rx="7.4" ry="8"/><ellipse cx="576.4" cy="1260.8" rx="7.4" ry="8"/><ellipse cx="577.3" cy="1267.0" rx="7.4" ry="8"/><ellipse cx="574.8" cy="1271.6" rx="7.4" ry="8"/><ellipse cx="738.1" cy="1234.8" rx="7.4" ry="8"/><ellipse cx="743.5" cy="1237.7" rx="7.4" ry="8"/><ellipse cx="749.8" cy="1237.3" rx="7.4" ry="8"/><ellipse cx="755.1" cy="1235.4" rx="7.4" ry="8"/><ellipse cx="761.3" cy="1235.3" rx="7.4" ry="8"/><ellipse cx="765.0" cy="1239.5" rx="7.4" ry="8"/><ellipse cx="770.5" cy="1241.9" rx="7.4" ry="8"/><ellipse cx="775.9" cy="1244.8" rx="7.4" ry="8"/><ellipse cx="781.5" cy="1246.6" rx="7.4" ry="8"/><ellipse cx="788.0" cy="1246.4" rx="7.4" ry="8"/><ellipse cx="793.6" cy="1248.5" rx="7.4" ry="8"/><ellipse cx="798.6" cy="1252.4" rx="7.4" ry="8"/><ellipse cx="804.4" cy="1253.9" rx="7.4" ry="8"/><ellipse cx="810.3" cy="1255.3" rx="7.4" ry="8"/><ellipse cx="816.3" cy="1256.1" rx="7.4" ry="8"/><ellipse cx="821.5" cy="1258.4" rx="7.4" ry="8"/><ellipse cx="827.9" cy="1259.0" rx="7.4" ry="8"/><ellipse cx="829.7" cy="1261.3" rx="7.4" ry="8"/><ellipse cx="855.5" cy="1232.9" rx="7.4" ry="8"/><ellipse cx="861.0" cy="1235.4" rx="7.4" ry="8"/><ellipse cx="866.8" cy="1236.7" rx="7.4" ry="8"/><ellipse cx="872.2" cy="1239.9" rx="7.4" ry="8"/><ellipse cx="878.5" cy="1240.1" rx="7.4" ry="8"/><ellipse cx="884.2" cy="1237.0" rx="7.4" ry="8"/><ellipse cx="889.9" cy="1235.7" rx="7.4" ry="8"/><ellipse cx="895.7" cy="1234.3" rx="7.4" ry="8"/><ellipse cx="901.9" cy="1234.2" rx="7.4" ry="8"/><ellipse cx="905.8" cy="1232.9" rx="7.4" ry="8"/><ellipse cx="578.7" cy="1263.3" rx="7.4" ry="8"/><ellipse cx="576.9" cy="1269.0" rx="7.4" ry="8"/><ellipse cx="575.9" cy="1274.7" rx="7.4" ry="8"/><ellipse cx="573.4" cy="1280.5" rx="7.4" ry="8"/><ellipse cx="572.5" cy="1286.4" rx="7.4" ry="8"/><ellipse cx="574.3" cy="1292.6" rx="7.4" ry="8"/><ellipse cx="570.5" cy="1297.8" rx="7.4" ry="8"/><ellipse cx="567.8" cy="1302.8" rx="7.4" ry="8"/><ellipse cx="565.7" cy="1308.8" rx="7.4" ry="8"/><ellipse cx="560.9" cy="1313.0" rx="7.4" ry="8"/><ellipse cx="555.1" cy="1314.6" rx="7.4" ry="8"/><ellipse cx="550.3" cy="1318.6" rx="7.4" ry="8"/><ellipse cx="543.9" cy="1319.1" rx="7.4" ry="8"/><ellipse cx="539.3" cy="1323.3" rx="7.4" ry="8"/><ellipse cx="533.4" cy="1325.0" rx="7.4" ry="8"/><ellipse cx="528.8" cy="1329.3" rx="7.4" ry="8"/><ellipse cx="524.7" cy="1334.2" rx="7.4" ry="8"/><ellipse cx="524.5" cy="1337.5" rx="7.4" ry="8"/><ellipse cx="570.3" cy="1313.6" rx="7.4" ry="8"/><ellipse cx="565.3" cy="1316.9" rx="7.4" ry="8"/><ellipse cx="560.1" cy="1320.1" rx="7.4" ry="8"/><ellipse cx="554.0" cy="1321.2" rx="7.4" ry="8"/><ellipse cx="549.8" cy="1325.3" rx="7.4" ry="8"/><ellipse cx="543.9" cy="1327.9" rx="7.4" ry="8"/><ellipse cx="540.0" cy="1332.7" rx="7.4" ry="8"/><ellipse cx="538.1" cy="1337.5" rx="7.4" ry="8"/><ellipse cx="596.8" cy="1312.3" rx="7.4" ry="8"/><ellipse cx="594.6" cy="1317.9" rx="7.4" ry="8"/><ellipse cx="592.7" cy="1323.8" rx="7.4" ry="8"/><ellipse cx="588.0" cy="1328.0" rx="7.4" ry="8"/><ellipse cx="581.6" cy="1327.8" rx="7.4" ry="8"/><ellipse cx="575.9" cy="1329.6" rx="7.4" ry="8"/><ellipse cx="570.6" cy="1332.8" rx="7.4" ry="8"/><ellipse cx="565.3" cy="1335.6" rx="7.4" ry="8"/><ellipse cx="560.6" cy="1339.9" rx="7.4" ry="8"/><ellipse cx="558.6" cy="1345.1" rx="7.4" ry="8"/><ellipse cx="554.7" cy="1349.7" rx="7.4" ry="8"/><ellipse cx="549.2" cy="1352.3" rx="7.4" ry="8"/><ellipse cx="545.8" cy="1352.3" rx="7.4" ry="8"/><ellipse cx="823.2" cy="1302.0" rx="7.4" ry="8"/><ellipse cx="817.8" cy="1304.8" rx="7.4" ry="8"/><ellipse cx="811.4" cy="1304.2" rx="7.4" ry="8"/><ellipse cx="808.9" cy="1310.3" rx="7.4" ry="8"/><ellipse cx="803.7" cy="1314.1" rx="7.4" ry="8"/><ellipse cx="801.0" cy="1319.7" rx="7.4" ry="8"/><ellipse cx="799.1" cy="1324.6" rx="7.4" ry="8"/><ellipse cx="794.7" cy="1329.3" rx="7.4" ry="8"/><ellipse cx="789.1" cy="1331.7" rx="7.4" ry="8"/><ellipse cx="783.8" cy="1333.9" rx="7.4" ry="8"/><ellipse cx="778.6" cy="1336.9" rx="7.4" ry="8"/><ellipse cx="774.2" cy="1341.0" rx="7.4" ry="8"/><ellipse cx="769.4" cy="1344.7" rx="7.4" ry="8"/><ellipse cx="763.4" cy="1346.6" rx="7.4" ry="8"/><ellipse cx="1021.9" cy="1298.1" rx="7.4" ry="8"/><ellipse cx="1028.3" cy="1295.1" rx="7.4" ry="8"/><ellipse cx="1034.5" cy="1292.7" rx="7.4" ry="8"/><ellipse cx="1040.6" cy="1288.9" rx="7.4" ry="8"/><ellipse cx="1046.5" cy="1286.1" rx="7.4" ry="8"/><ellipse cx="1052.9" cy="1283.3" rx="7.4" ry="8"/><ellipse cx="1059.1" cy="1279.9" rx="7.4" ry="8"/><ellipse cx="1065.5" cy="1277.1" rx="7.4" ry="8"/><ellipse cx="1069.7" cy="1274.9" rx="7.4" ry="8"/><ellipse cx="988.4" cy="1353.0" rx="7.4" ry="8"/><ellipse cx="992.2" cy="1354.6" rx="7.4" ry="8"/><ellipse cx="996.5" cy="1352.7" rx="7.4" ry="8"/><ellipse cx="1000.5" cy="1353.3" rx="7.4" ry="8"/><ellipse cx="1004.1" cy="1356.0" rx="7.4" ry="8"/><ellipse cx="1008.1" cy="1356.2" rx="7.4" ry="8"/><ellipse cx="1012.0" cy="1357.2" rx="7.4" ry="8"/><ellipse cx="1016.2" cy="1356.9" rx="7.4" ry="8"/><ellipse cx="1020.1" cy="1357.8" rx="7.4" ry="8"/><ellipse cx="1023.4" cy="1361.1" rx="7.4" ry="8"/><ellipse cx="1027.7" cy="1360.1" rx="7.4" ry="8"/><ellipse cx="1031.6" cy="1361.1" rx="7.4" ry="8"/><ellipse cx="1035.4" cy="1362.6" rx="7.4" ry="8"/><ellipse cx="1039.0" cy="1364.7" rx="7.4" ry="8"/><ellipse cx="1043.2" cy="1365.0" rx="7.4" ry="8"/><ellipse cx="1047.2" cy="1362.6" rx="7.4" ry="8"/><ellipse cx="1051.5" cy="1362.9" rx="7.4" ry="8"/><ellipse cx="1054.8" cy="1365.8" rx="7.4" ry="8"/><ellipse cx="1058.9" cy="1366.2" rx="7.4" ry="8"/><ellipse cx="1062.8" cy="1367.2" rx="7.4" ry="8"/><ellipse cx="1066.9" cy="1366.6" rx="7.4" ry="8"/><ellipse cx="1070.4" cy="1369.7" rx="7.4" ry="8"/><ellipse cx="1074.5" cy="1370.2" rx="7.4" ry="8"/><ellipse cx="1078.7" cy="1368.6" rx="7.4" ry="8"/><ellipse cx="1082.7" cy="1369.1" rx="7.4" ry="8"/><ellipse cx="1086.6" cy="1370.0" rx="7.4" ry="8"/><ellipse cx="1343.2" cy="1349.7" rx="7.4" ry="8"/><ellipse cx="1346.9" cy="1347.7" rx="7.4" ry="8"/><ellipse cx="1348.1" cy="1343.4" rx="7.4" ry="8"/><ellipse cx="1352.6" cy="1342.2" rx="7.4" ry="8"/><ellipse cx="1354.3" cy="1338.1" rx="7.4" ry="8"/><ellipse cx="1358.6" cy="1337.2" rx="7.4" ry="8"/><ellipse cx="1316.1" cy="1391.0" rx="7.4" ry="8"/><ellipse cx="1319.3" cy="1388.4" rx="7.4" ry="8"/><ellipse cx="1323.9" cy="1388.6" rx="7.4" ry="8"/><ellipse cx="1327.2" cy="1386.2" rx="7.4" ry="8"/><ellipse cx="1330.6" cy="1384.1" rx="7.4" ry="8"/><ellipse cx="1334.6" cy="1383.6" rx="7.4" ry="8"/><ellipse cx="1337.6" cy="1380.0" rx="7.4" ry="8"/><ellipse cx="551.6" cy="1457.5" rx="7.4" ry="8"/><ellipse cx="556.2" cy="1455.5" rx="7.4" ry="8"/><ellipse cx="560.6" cy="1453.0" rx="7.4" ry="8"/><ellipse cx="565.6" cy="1451.9" rx="7.4" ry="8"/><ellipse cx="570.8" cy="1452.7" rx="7.4" ry="8"/><ellipse cx="575.8" cy="1451.3" rx="7.4" ry="8"/><ellipse cx="579.6" cy="1447.3" rx="7.4" ry="8"/><ellipse cx="584.2" cy="1445.5" rx="7.4" ry="8"/><ellipse cx="589.3" cy="1444.6" rx="7.4" ry="8"/><ellipse cx="593.7" cy="1442.3" rx="7.4" ry="8"/><ellipse cx="598.4" cy="1440.6" rx="7.4" ry="8"/><ellipse cx="602.3" cy="1436.9" rx="7.4" ry="8"/><ellipse cx="607.0" cy="1435.0" rx="7.4" ry="8"/><ellipse cx="612.5" cy="1435.6" rx="7.4" ry="8"/><ellipse cx="617.2" cy="1433.6" rx="7.4" ry="8"/><ellipse cx="621.2" cy="1430.2" rx="7.4" ry="8"/><ellipse cx="625.6" cy="1428.1" rx="7.4" ry="8"/><ellipse cx="629.7" cy="1425.2" rx="7.4" ry="8"/><ellipse cx="634.9" cy="1424.1" rx="7.4" ry="8"/><ellipse cx="638.8" cy="1420.5" rx="7.4" ry="8"/><ellipse cx="640.6" cy="1415.3" rx="7.4" ry="8"/><ellipse cx="644.9" cy="1412.5" rx="7.4" ry="8"/><ellipse cx="647.9" cy="1408.5" rx="7.4" ry="8"/><ellipse cx="650.9" cy="1404.5" rx="7.4" ry="8"/><ellipse cx="655.8" cy="1402.1" rx="7.4" ry="8"/><ellipse cx="658.2" cy="1397.6" rx="7.4" ry="8"/><ellipse cx="663.0" cy="1395.5" rx="7.4" ry="8"/><ellipse cx="666.9" cy="1392.3" rx="7.4" ry="8"/><ellipse cx="669.7" cy="1387.9" rx="7.4" ry="8"/><ellipse cx="674.4" cy="1385.7" rx="7.4" ry="8"/><ellipse cx="676.9" cy="1380.9" rx="7.4" ry="8"/><ellipse cx="681.3" cy="1378.8" rx="7.4" ry="8"/><ellipse cx="579.4" cy="1466.6" rx="7.4" ry="8"/><ellipse cx="584.2" cy="1465.2" rx="7.4" ry="8"/><ellipse cx="587.7" cy="1460.9" rx="7.4" ry="8"/><ellipse cx="592.5" cy="1459.0" rx="7.4" ry="8"/><ellipse cx="597.9" cy="1459.3" rx="7.4" ry="8"/><ellipse cx="602.6" cy="1457.7" rx="7.4" ry="8"/><ellipse cx="607.1" cy="1455.3" rx="7.4" ry="8"/><ellipse cx="611.8" cy="1453.8" rx="7.4" ry="8"/><ellipse cx="616.0" cy="1450.8" rx="7.4" ry="8"/><ellipse cx="620.4" cy="1448.8" rx="7.4" ry="8"/><ellipse cx="625.8" cy="1447.8" rx="7.4" ry="8"/><ellipse cx="628.5" cy="1443.0" rx="7.4" ry="8"/><ellipse cx="632.7" cy="1440.4" rx="7.4" ry="8"/><ellipse cx="636.3" cy="1436.9" rx="7.4" ry="8"/><ellipse cx="639.8" cy="1433.2" rx="7.4" ry="8"/><ellipse cx="645.1" cy="1431.8" rx="7.4" ry="8"/><ellipse cx="648.7" cy="1428.4" rx="7.4" ry="8"/><ellipse cx="652.1" cy="1424.6" rx="7.4" ry="8"/><ellipse cx="655.8" cy="1421.1" rx="7.4" ry="8"/><ellipse cx="660.1" cy="1418.4" rx="7.4" ry="8"/><ellipse cx="665.7" cy="1418.3" rx="7.4" ry="8"/><ellipse cx="670.1" cy="1415.8" rx="7.4" ry="8"/><ellipse cx="673.5" cy="1411.7" rx="7.4" ry="8"/><ellipse cx="677.8" cy="1409.1" rx="7.4" ry="8"/><ellipse cx="682.2" cy="1406.8" rx="7.4" ry="8"/><ellipse cx="687.5" cy="1406.1" rx="7.4" ry="8"/><ellipse cx="692.0" cy="1404.1" rx="7.4" ry="8"/><ellipse cx="695.6" cy="1399.9" rx="7.4" ry="8"/><ellipse cx="700.0" cy="1397.7" rx="7.4" ry="8"/><ellipse cx="705.5" cy="1397.5" rx="7.4" ry="8"/><ellipse cx="709.5" cy="1394.3" rx="7.4" ry="8"/><ellipse cx="714.2" cy="1392.6" rx="7.4" ry="8"/><ellipse cx="718.6" cy="1390.1" rx="7.4" ry="8"/><ellipse cx="580.0" cy="1472.4" rx="7.4" ry="8"/><ellipse cx="584.9" cy="1471.2" rx="7.4" ry="8"/><ellipse cx="589.9" cy="1470.6" rx="7.4" ry="8"/><ellipse cx="594.8" cy="1469.6" rx="7.4" ry="8"/><ellipse cx="599.1" cy="1466.1" rx="7.4" ry="8"/><ellipse cx="603.8" cy="1464.7" rx="7.4" ry="8"/><ellipse cx="609.2" cy="1465.2" rx="7.4" ry="8"/><ellipse cx="613.8" cy="1463.2" rx="7.4" ry="8"/><ellipse cx="618.2" cy="1460.6" rx="7.4" ry="8"/><ellipse cx="622.9" cy="1458.8" rx="7.4" ry="8"/><ellipse cx="625.9" cy="1454.2" rx="7.4" ry="8"/><ellipse cx="636.8" cy="1467.9" rx="7.4" ry="8"/><ellipse cx="638.6" cy="1463.2" rx="7.4" ry="8"/><ellipse cx="642.3" cy="1459.6" rx="7.4" ry="8"/><ellipse cx="644.2" cy="1454.9" rx="7.4" ry="8"/><ellipse cx="648.1" cy="1451.5" rx="7.4" ry="8"/><ellipse cx="649.3" cy="1446.3" rx="7.4" ry="8"/><ellipse cx="654.0" cy="1443.6" rx="7.4" ry="8"/><ellipse cx="655.4" cy="1438.2" rx="7.4" ry="8"/><ellipse cx="660.4" cy="1436.1" rx="7.4" ry="8"/><ellipse cx="663.0" cy="1431.4" rx="7.4" ry="8"/><ellipse cx="667.2" cy="1428.6" rx="7.4" ry="8"/><ellipse cx="671.9" cy="1426.6" rx="7.4" ry="8"/><ellipse cx="675.9" cy="1423.5" rx="7.4" ry="8"/><ellipse cx="681.2" cy="1422.8" rx="7.4" ry="8"/><ellipse cx="685.6" cy="1420.7" rx="7.4" ry="8"/><ellipse cx="689.3" cy="1416.5" rx="7.4" ry="8"/><ellipse cx="693.7" cy="1414.8" rx="7.4" ry="8"/><ellipse cx="698.1" cy="1412.3" rx="7.4" ry="8"/><ellipse cx="701.9" cy="1408.9" rx="7.4" ry="8"/><ellipse cx="707.3" cy="1408.2" rx="7.4" ry="8"/><ellipse cx="711.5" cy="1405.7" rx="7.4" ry="8"/><ellipse cx="715.4" cy="1402.2" rx="7.4" ry="8"/><ellipse cx="720.0" cy="1400.8" rx="7.4" ry="8"/><ellipse cx="647.7" cy="1420.1" rx="7.4" ry="8"/><ellipse cx="651.6" cy="1417.0" rx="7.4" ry="8"/><ellipse cx="656.1" cy="1414.6" rx="7.4" ry="8"/><ellipse cx="658.6" cy="1409.7" rx="7.4" ry="8"/><ellipse cx="663.0" cy="1407.2" rx="7.4" ry="8"/><ellipse cx="668.3" cy="1406.0" rx="7.4" ry="8"/><ellipse cx="671.1" cy="1401.2" rx="7.4" ry="8"/><ellipse cx="675.3" cy="1398.3" rx="7.4" ry="8"/><ellipse cx="680.8" cy="1397.8" rx="7.4" ry="8"/><ellipse cx="684.2" cy="1393.8" rx="7.4" ry="8"/><ellipse cx="688.3" cy="1390.7" rx="7.4" ry="8"/><ellipse cx="693.6" cy="1390.2" rx="7.4" ry="8"/><ellipse cx="697.9" cy="1387.6" rx="7.4" ry="8"/><ellipse cx="701.7" cy="1384.1" rx="7.4" ry="8"/><ellipse cx="706.3" cy="1382.2" rx="7.4" ry="8"/><ellipse cx="709.7" cy="1380.1" rx="7.4" ry="8"/><ellipse cx="774.2" cy="1432.4" rx="7.4" ry="8"/><ellipse cx="778.2" cy="1431.7" rx="7.4" ry="8"/><ellipse cx="782.1" cy="1431.3" rx="7.4" ry="8"/><ellipse cx="786.1" cy="1431.0" rx="7.4" ry="8"/><ellipse cx="790.3" cy="1432.5" rx="7.4" ry="8"/><ellipse cx="794.0" cy="1432.3" rx="7.4" ry="8"/><ellipse cx="798.1" cy="1431.6" rx="7.4" ry="8"/><ellipse cx="802.2" cy="1431.6" rx="7.4" ry="8"/><ellipse cx="806.1" cy="1431.8" rx="7.4" ry="8"/><ellipse cx="810.0" cy="1434.2" rx="7.4" ry="8"/><ellipse cx="814.0" cy="1434.4" rx="7.4" ry="8"/><ellipse cx="818.1" cy="1432.6" rx="7.4" ry="8"/><ellipse cx="822.0" cy="1433.2" rx="7.4" ry="8"/><ellipse cx="826.0" cy="1433.2" rx="7.4" ry="8"/><ellipse cx="830.0" cy="1434.8" rx="7.4" ry="8"/><ellipse cx="834.0" cy="1435.0" rx="7.4" ry="8"/><ellipse cx="838.0" cy="1432.8" rx="7.4" ry="8"/><ellipse cx="1002.6" cy="1431.7" rx="7.4" ry="8"/><ellipse cx="1006.6" cy="1431.8" rx="7.4" ry="8"/><ellipse cx="1010.6" cy="1430.8" rx="7.4" ry="8"/><ellipse cx="1014.3" cy="1429.9" rx="7.4" ry="8"/><ellipse cx="1018.7" cy="1431.4" rx="7.4" ry="8"/><ellipse cx="1022.5" cy="1429.8" rx="7.4" ry="8"/><ellipse cx="1026.1" cy="1428.1" rx="7.4" ry="8"/><ellipse cx="1030.2" cy="1427.3" rx="7.4" ry="8"/><ellipse cx="1033.0" cy="1423.8" rx="7.4" ry="8"/><ellipse cx="1037.6" cy="1424.3" rx="7.4" ry="8"/><ellipse cx="1041.0" cy="1422.2" rx="7.4" ry="8"/><ellipse cx="1044.7" cy="1420.7" rx="7.4" ry="8"/><ellipse cx="1048.5" cy="1419.7" rx="7.4" ry="8"/><ellipse cx="1051.6" cy="1416.2" rx="7.4" ry="8"/><ellipse cx="1055.5" cy="1416.3" rx="7.4" ry="8"/><ellipse cx="1067.1" cy="1424.0" rx="7.4" ry="8"/><ellipse cx="1072.1" cy="1423.5" rx="7.4" ry="8"/><ellipse cx="1077.0" cy="1422.2" rx="7.4" ry="8"/><ellipse cx="1082.1" cy="1423.6" rx="7.4" ry="8"/><ellipse cx="1086.9" cy="1420.9" rx="7.4" ry="8"/><ellipse cx="1092.2" cy="1421.9" rx="7.4" ry="8"/><ellipse cx="1096.8" cy="1423.4" rx="7.4" ry="8"/><ellipse cx="1101.7" cy="1424.8" rx="7.4" ry="8"/><ellipse cx="1106.4" cy="1426.6" rx="7.4" ry="8"/><ellipse cx="1111.6" cy="1425.7" rx="7.4" ry="8"/><ellipse cx="1116.5" cy="1424.7" rx="7.4" ry="8"/><ellipse cx="1121.5" cy="1425.6" rx="7.4" ry="8"/><ellipse cx="1126.4" cy="1426.7" rx="7.4" ry="8"/><ellipse cx="1131.6" cy="1425.6" rx="7.4" ry="8"/><ellipse cx="1136.4" cy="1426.6" rx="7.4" ry="8"/><ellipse cx="1141.4" cy="1428.0" rx="7.4" ry="8"/><ellipse cx="1146.3" cy="1425.4" rx="7.4" ry="8"/><ellipse cx="1151.3" cy="1425.3" rx="7.4" ry="8"/><ellipse cx="1156.4" cy="1427.4" rx="7.4" ry="8"/><ellipse cx="1161.4" cy="1426.9" rx="7.4" ry="8"/><ellipse cx="1166.4" cy="1424.6" rx="7.4" ry="8"/><ellipse cx="1171.4" cy="1426.9" rx="7.4" ry="8"/><ellipse cx="1176.3" cy="1427.4" rx="7.4" ry="8"/><ellipse cx="1181.4" cy="1425.3" rx="7.4" ry="8"/><ellipse cx="1186.5" cy="1425.4" rx="7.4" ry="8"/><ellipse cx="1191.2" cy="1428.4" rx="7.4" ry="8"/><ellipse cx="1196.3" cy="1427.3" rx="7.4" ry="8"/><ellipse cx="1052.9" cy="1407.2" rx="7.4" ry="8"/><ellipse cx="1057.8" cy="1408.5" rx="7.4" ry="8"/><ellipse cx="1062.8" cy="1408.8" rx="7.4" ry="8"/><ellipse cx="1067.5" cy="1408.4" rx="7.4" ry="8"/><ellipse cx="1072.7" cy="1410.2" rx="7.4" ry="8"/><ellipse cx="1077.5" cy="1409.3" rx="7.4" ry="8"/><ellipse cx="1082.5" cy="1407.2" rx="7.4" ry="8"/><ellipse cx="1087.5" cy="1409.6" rx="7.4" ry="8"/><ellipse cx="1092.4" cy="1410.1" rx="7.4" ry="8"/><ellipse cx="1097.6" cy="1408.2" rx="7.4" ry="8"/><ellipse cx="1102.8" cy="1408.9" rx="7.4" ry="8"/><ellipse cx="1106.7" cy="1412.9" rx="7.4" ry="8"/><ellipse cx="1112.0" cy="1412.9" rx="7.4" ry="8"/><ellipse cx="1116.8" cy="1414.2" rx="7.4" ry="8"/><ellipse cx="1121.6" cy="1415.7" rx="7.4" ry="8"/><ellipse cx="1126.5" cy="1416.4" rx="7.4" ry="8"/><ellipse cx="1131.2" cy="1418.6" rx="7.4" ry="8"/><ellipse cx="1136.5" cy="1417.0" rx="7.4" ry="8"/><ellipse cx="1141.4" cy="1419.9" rx="7.4" ry="8"/><ellipse cx="1146.2" cy="1418.0" rx="7.4" ry="8"/><ellipse cx="1151.1" cy="1417.2" rx="7.4" ry="8"/><ellipse cx="1156.1" cy="1416.6" rx="7.4" ry="8"/><ellipse cx="1160.3" cy="1414.0" rx="7.4" ry="8"/><ellipse cx="1163.8" cy="1410.1" rx="7.4" ry="8"/><ellipse cx="1168.5" cy="1408.2" rx="7.4" ry="8"/><ellipse cx="1173.4" cy="1406.7" rx="7.4" ry="8"/><ellipse cx="1177.9" cy="1403.7" rx="7.4" ry="8"/><ellipse cx="1179.2" cy="1398.3" rx="7.4" ry="8"/><ellipse cx="1181.9" cy="1396.9" rx="7.4" ry="8"/><ellipse cx="966.5" cy="1391.7" rx="7.4" ry="8"/><ellipse cx="971.2" cy="1393.3" rx="7.4" ry="8"/><ellipse cx="976.3" cy="1393.7" rx="7.4" ry="8"/><ellipse cx="980.9" cy="1395.5" rx="7.4" ry="8"/><ellipse cx="985.9" cy="1395.8" rx="7.4" ry="8"/><ellipse cx="990.7" cy="1393.2" rx="7.4" ry="8"/><ellipse cx="995.9" cy="1394.4" rx="7.4" ry="8"/><ellipse cx="1000.4" cy="1397.2" rx="7.4" ry="8"/><ellipse cx="1005.5" cy="1397.5" rx="7.4" ry="8"/><ellipse cx="1010.7" cy="1396.8" rx="7.4" ry="8"/><ellipse cx="1015.1" cy="1400.2" rx="7.4" ry="8"/><ellipse cx="1020.2" cy="1400.8" rx="7.4" ry="8"/><ellipse cx="1025.4" cy="1398.9" rx="7.4" ry="8"/><ellipse cx="1030.2" cy="1401.5" rx="7.4" ry="8"/><ellipse cx="1034.7" cy="1403.2" rx="7.4" ry="8"/><ellipse cx="1040.1" cy="1402.4" rx="7.4" ry="8"/><ellipse cx="1042.8" cy="1399.3" rx="7.4" ry="8"/><ellipse cx="1045.2" cy="1396.9" rx="7.4" ry="8"/><ellipse cx="960.0" cy="1384.0" rx="7.4" ry="8"/><ellipse cx="964.9" cy="1384.8" rx="7.4" ry="8"/><ellipse cx="969.6" cy="1386.9" rx="7.4" ry="8"/><ellipse cx="974.7" cy="1386.5" rx="7.4" ry="8"/><ellipse cx="979.7" cy="1385.7" rx="7.4" ry="8"/><ellipse cx="984.7" cy="1387.9" rx="7.4" ry="8"/><ellipse cx="989.7" cy="1387.7" rx="7.4" ry="8"/><ellipse cx="994.8" cy="1386.2" rx="7.4" ry="8"/><ellipse cx="999.8" cy="1387.5" rx="7.4" ry="8"/><ellipse cx="1004.3" cy="1390.2" rx="7.4" ry="8"/><ellipse cx="1009.7" cy="1388.8" rx="7.4" ry="8"/><ellipse cx="1014.6" cy="1389.9" rx="7.4" ry="8"/><ellipse cx="1019.0" cy="1393.2" rx="7.4" ry="8"/><ellipse cx="1024.3" cy="1392.2" rx="7.4" ry="8"/><ellipse cx="1029.0" cy="1391.3" rx="7.4" ry="8"/><ellipse cx="1034.2" cy="1393.0" rx="7.4" ry="8"/><ellipse cx="1039.3" cy="1392.7" rx="7.4" ry="8"/><ellipse cx="1043.8" cy="1389.4" rx="7.4" ry="8"/><ellipse cx="1048.9" cy="1389.7" rx="7.4" ry="8"/><ellipse cx="1069.7" cy="1387.9" rx="7.4" ry="8"/><ellipse cx="1074.1" cy="1385.3" rx="7.4" ry="8"/><ellipse cx="1079.4" cy="1385.6" rx="7.4" ry="8"/><ellipse cx="1083.7" cy="1385.7" rx="7.4" ry="8"/><ellipse cx="1089.1" cy="1385.1" rx="7.4" ry="8"/><ellipse cx="1093.7" cy="1387.2" rx="7.4" ry="8"/><ellipse cx="1098.6" cy="1388.5" rx="7.4" ry="8"/><ellipse cx="1103.5" cy="1387.0" rx="7.4" ry="8"/><ellipse cx="1108.6" cy="1385.5" rx="7.4" ry="8"/><ellipse cx="1113.4" cy="1387.3" rx="7.4" ry="8"/><ellipse cx="1118.4" cy="1388.3" rx="7.4" ry="8"/><ellipse cx="1123.4" cy="1387.4" rx="7.4" ry="8"/><ellipse cx="1128.4" cy="1387.4" rx="7.4" ry="8"/><ellipse cx="1133.4" cy="1389.1" rx="7.4" ry="8"/><ellipse cx="1138.4" cy="1388.2" rx="7.4" ry="8"/><ellipse cx="1143.4" cy="1386.8" rx="7.4" ry="8"/><ellipse cx="1148.4" cy="1387.7" rx="7.4" ry="8"/><ellipse cx="1153.4" cy="1388.8" rx="7.4" ry="8"/><ellipse cx="1158.4" cy="1386.6" rx="7.4" ry="8"/><ellipse cx="1175.5" cy="1478.2" rx="7.4" ry="8"/><ellipse cx="1179.6" cy="1477.7" rx="7.4" ry="8"/><ellipse cx="1182.6" cy="1474.6" rx="7.4" ry="8"/><ellipse cx="1186.4" cy="1473.3" rx="7.4" ry="8"/><ellipse cx="1189.1" cy="1470.1" rx="7.4" ry="8"/><ellipse cx="1192.5" cy="1467.7" rx="7.4" ry="8"/><ellipse cx="1196.9" cy="1467.6" rx="7.4" ry="8"/><ellipse cx="1200.0" cy="1465.3" rx="7.4" ry="8"/><ellipse cx="1200.0" cy="1420.1" rx="7.4" ry="8"/><ellipse cx="1204.6" cy="1417.8" rx="7.4" ry="8"/><ellipse cx="1209.8" cy="1418.2" rx="7.4" ry="8"/><ellipse cx="1214.6" cy="1416.4" rx="7.4" ry="8"/><ellipse cx="1219.3" cy="1414.7" rx="7.4" ry="8"/><ellipse cx="1224.0" cy="1413.4" rx="7.4" ry="8"/><ellipse cx="1228.4" cy="1410.5" rx="7.4" ry="8"/><ellipse cx="1233.5" cy="1409.5" rx="7.4" ry="8"/><ellipse cx="1238.7" cy="1411.3" rx="7.4" ry="8"/><ellipse cx="1243.6" cy="1410.9" rx="7.4" ry="8"/><ellipse cx="1248.6" cy="1409.4" rx="7.4" ry="8"/><ellipse cx="1253.5" cy="1409.1" rx="7.4" ry="8"/><ellipse cx="1258.4" cy="1408.1" rx="7.4" ry="8"/><ellipse cx="1309.7" cy="1400.8" rx="7.4" ry="8"/><ellipse cx="1313.3" cy="1398.9" rx="7.4" ry="8"/><ellipse cx="1316.0" cy="1395.8" rx="7.4" ry="8"/><ellipse cx="1319.9" cy="1394.3" rx="7.4" ry="8"/><ellipse cx="1321.6" cy="1390.0" rx="7.4" ry="8"/><ellipse cx="1326.0" cy="1389.3" rx="7.4" ry="8"/><ellipse cx="1328.3" cy="1385.5" rx="7.4" ry="8"/><ellipse cx="1332.6" cy="1384.8" rx="7.4" ry="8"/><ellipse cx="1335.5" cy="1384.0" rx="7.4" ry="8"/><ellipse cx="1242.6" cy="1426.6" rx="7.4" ry="8"/><ellipse cx="1240.3" cy="1429.9" rx="7.4" ry="8"/><ellipse cx="1237.7" cy="1433.0" rx="7.4" ry="8"/><ellipse cx="1233.8" cy="1434.8" rx="7.4" ry="8"/><ellipse cx="1230.6" cy="1437.4" rx="7.4" ry="8"/><ellipse cx="1229.1" cy="1441.3" rx="7.4" ry="8"/><ellipse cx="1228.1" cy="1445.2" rx="7.4" ry="8"/><ellipse cx="1225.7" cy="1448.6" rx="7.4" ry="8"/><ellipse cx="1221.7" cy="1450.6" rx="7.4" ry="8"/><ellipse cx="1219.6" cy="1453.9" rx="7.4" ry="8"/><ellipse cx="1218.0" cy="1458.0" rx="7.4" ry="8"/><ellipse cx="1214.2" cy="1460.0" rx="7.4" ry="8"/><ellipse cx="1209.7" cy="1460.3" rx="7.4" ry="8"/><ellipse cx="1206.4" cy="1462.7" rx="7.4" ry="8"/><ellipse cx="1203.4" cy="1465.0" rx="7.4" ry="8"/><ellipse cx="1200.9" cy="1468.9" rx="7.4" ry="8"/><ellipse cx="1234.8" cy="1431.7" rx="7.4" ry="8"/><ellipse cx="1231.1" cy="1433.7" rx="7.4" ry="8"/><ellipse cx="1229.9" cy="1438.1" rx="7.4" ry="8"/><ellipse cx="1226.8" cy="1440.6" rx="7.4" ry="8"/><ellipse cx="1224.2" cy="1443.7" rx="7.4" ry="8"/><ellipse cx="1220.4" cy="1445.7" rx="7.4" ry="8"/><ellipse cx="1217.7" cy="1448.5" rx="7.4" ry="8"/><ellipse cx="1216.6" cy="1453.0" rx="7.4" ry="8"/><ellipse cx="1213.5" cy="1455.8" rx="7.4" ry="8"/><ellipse cx="1209.1" cy="1456.6" rx="7.4" ry="8"/><ellipse cx="1206.2" cy="1459.4" rx="7.4" ry="8"/><ellipse cx="1202.4" cy="1460.7" rx="7.4" ry="8"/><ellipse cx="1200.0" cy="1462.7" rx="7.4" ry="8"/><ellipse cx="1200.0" cy="1427.9" rx="7.4" ry="8"/><ellipse cx="1204.0" cy="1429.0" rx="7.4" ry="8"/><ellipse cx="1208.0" cy="1427.5" rx="7.4" ry="8"/><ellipse cx="1211.9" cy="1427.3" rx="7.4" ry="8"/><ellipse cx="1215.9" cy="1426.4" rx="7.4" ry="8"/><ellipse cx="1219.4" cy="1426.6" rx="7.4" ry="8"/><ellipse cx="763.9" cy="1347.8" rx="7.4" ry="8"/><ellipse cx="767.1" cy="1343.8" rx="7.4" ry="8"/><ellipse cx="771.6" cy="1341.5" rx="7.4" ry="8"/><ellipse cx="775.6" cy="1338.5" rx="7.4" ry="8"/><ellipse cx="779.1" cy="1334.8" rx="7.4" ry="8"/><ellipse cx="784.4" cy="1333.5" rx="7.4" ry="8"/><ellipse cx="787.9" cy="1329.8" rx="7.4" ry="8"/><ellipse cx="792.1" cy="1327.2" rx="7.4" ry="8"/><ellipse cx="797.3" cy="1326.2" rx="7.4" ry="8"/><ellipse cx="1091.6" cy="1379.7" rx="7.4" ry="8"/><ellipse cx="1097.6" cy="1380.2" rx="7.4" ry="8"/><ellipse cx="1103.6" cy="1380.1" rx="7.4" ry="8"/><ellipse cx="1109.4" cy="1382.7" rx="7.4" ry="8"/><ellipse cx="1115.5" cy="1381.6" rx="7.4" ry="8"/><ellipse cx="1121.6" cy="1381.9" rx="7.4" ry="8"/><ellipse cx="1127.2" cy="1378.8" rx="7.4" ry="8"/><ellipse cx="1133.4" cy="1380.2" rx="7.4" ry="8"/><ellipse cx="1139.2" cy="1377.6" rx="7.4" ry="8"/><ellipse cx="1145.3" cy="1379.8" rx="7.4" ry="8"/><ellipse cx="1151.2" cy="1377.5" rx="7.4" ry="8"/><ellipse cx="1157.3" cy="1378.1" rx="7.4" ry="8"/><ellipse cx="1162.6" cy="1378.1" rx="7.4" ry="8"/><ellipse cx="786.4" cy="1361.7" rx="7.4" ry="8"/><ellipse cx="688.9" cy="1366.0" rx="7.4" ry="8"/><ellipse cx="693.9" cy="1366.0" rx="7.4" ry="8"/><ellipse cx="773.9" cy="1366.0" rx="7.4" ry="8"/><ellipse cx="778.9" cy="1366.0" rx="7.4" ry="8"/><ellipse cx="783.9" cy="1366.0" rx="7.4" ry="8"/><ellipse cx="788.9" cy="1366.0" rx="7.4" ry="8"/><ellipse cx="793.9" cy="1366.0" rx="7.4" ry="8"/><ellipse cx="691.4" cy="1370.3" rx="7.4" ry="8"/><ellipse cx="736.4" cy="1370.3" rx="7.4" ry="8"/><ellipse cx="741.4" cy="1370.3" rx="7.4" ry="8"/><ellipse cx="746.4" cy="1370.3" rx="7.4" ry="8"/><ellipse cx="766.4" cy="1370.3" rx="7.4" ry="8"/><ellipse cx="771.4" cy="1370.3" rx="7.4" ry="8"/><ellipse cx="776.4" cy="1370.3" rx="7.4" ry="8"/><ellipse cx="781.4" cy="1370.3" rx="7.4" ry="8"/><ellipse cx="786.4" cy="1370.3" rx="7.4" ry="8"/><ellipse cx="791.4" cy="1370.3" rx="7.4" ry="8"/><ellipse cx="688.9" cy="1374.7" rx="7.4" ry="8"/><ellipse cx="693.9" cy="1374.7" rx="7.4" ry="8"/><ellipse cx="698.9" cy="1374.7" rx="7.4" ry="8"/><ellipse cx="723.9" cy="1374.7" rx="7.4" ry="8"/><ellipse cx="728.9" cy="1374.7" rx="7.4" ry="8"/><ellipse cx="733.9" cy="1374.7" rx="7.4" ry="8"/><ellipse cx="738.9" cy="1374.7" rx="7.4" ry="8"/><ellipse cx="743.9" cy="1374.7" rx="7.4" ry="8"/><ellipse cx="748.9" cy="1374.7" rx="7.4" ry="8"/><ellipse cx="753.9" cy="1374.7" rx="7.4" ry="8"/><ellipse cx="758.9" cy="1374.7" rx="7.4" ry="8"/><ellipse cx="763.9" cy="1374.7" rx="7.4" ry="8"/><ellipse cx="768.9" cy="1374.7" rx="7.4" ry="8"/><ellipse cx="773.9" cy="1374.7" rx="7.4" ry="8"/><ellipse cx="778.9" cy="1374.7" rx="7.4" ry="8"/><ellipse cx="783.9" cy="1374.7" rx="7.4" ry="8"/><ellipse cx="788.9" cy="1374.7" rx="7.4" ry="8"/><ellipse cx="793.9" cy="1374.7" rx="7.4" ry="8"/><ellipse cx="691.4" cy="1379.0" rx="7.4" ry="8"/><ellipse cx="696.4" cy="1379.0" rx="7.4" ry="8"/><ellipse cx="701.4" cy="1379.0" rx="7.4" ry="8"/><ellipse cx="706.4" cy="1379.0" rx="7.4" ry="8"/><ellipse cx="711.4" cy="1379.0" rx="7.4" ry="8"/><ellipse cx="716.4" cy="1379.0" rx="7.4" ry="8"/><ellipse cx="721.4" cy="1379.0" rx="7.4" ry="8"/><ellipse cx="726.4" cy="1379.0" rx="7.4" ry="8"/><ellipse cx="731.4" cy="1379.0" rx="7.4" ry="8"/><ellipse cx="736.4" cy="1379.0" rx="7.4" ry="8"/><ellipse cx="741.4" cy="1379.0" rx="7.4" ry="8"/><ellipse cx="746.4" cy="1379.0" rx="7.4" ry="8"/><ellipse cx="751.4" cy="1379.0" rx="7.4" ry="8"/><ellipse cx="756.4" cy="1379.0" rx="7.4" ry="8"/><ellipse cx="761.4" cy="1379.0" rx="7.4" ry="8"/><ellipse cx="766.4" cy="1379.0" rx="7.4" ry="8"/><ellipse cx="771.4" cy="1379.0" rx="7.4" ry="8"/><ellipse cx="776.4" cy="1379.0" rx="7.4" ry="8"/><ellipse cx="781.4" cy="1379.0" rx="7.4" ry="8"/><ellipse cx="786.4" cy="1379.0" rx="7.4" ry="8"/><ellipse cx="688.9" cy="1383.3" rx="7.4" ry="8"/><ellipse cx="693.9" cy="1383.3" rx="7.4" ry="8"/><ellipse cx="698.9" cy="1383.3" rx="7.4" ry="8"/><ellipse cx="703.9" cy="1383.3" rx="7.4" ry="8"/><ellipse cx="708.9" cy="1383.3" rx="7.4" ry="8"/><ellipse cx="713.9" cy="1383.3" rx="7.4" ry="8"/><ellipse cx="718.9" cy="1383.3" rx="7.4" ry="8"/><ellipse cx="723.9" cy="1383.3" rx="7.4" ry="8"/><ellipse cx="728.9" cy="1383.3" rx="7.4" ry="8"/><ellipse cx="733.9" cy="1383.3" rx="7.4" ry="8"/><ellipse cx="738.9" cy="1383.3" rx="7.4" ry="8"/><ellipse cx="743.9" cy="1383.3" rx="7.4" ry="8"/><ellipse cx="748.9" cy="1383.3" rx="7.4" ry="8"/><ellipse cx="753.9" cy="1383.3" rx="7.4" ry="8"/><ellipse cx="758.9" cy="1383.3" rx="7.4" ry="8"/><ellipse cx="763.9" cy="1383.3" rx="7.4" ry="8"/><ellipse cx="768.9" cy="1383.3" rx="7.4" ry="8"/><ellipse cx="773.9" cy="1383.3" rx="7.4" ry="8"/><ellipse cx="778.9" cy="1383.3" rx="7.4" ry="8"/><ellipse cx="783.9" cy="1383.3" rx="7.4" ry="8"/><ellipse cx="676.4" cy="1387.7" rx="7.4" ry="8"/><ellipse cx="681.4" cy="1387.7" rx="7.4" ry="8"/><ellipse cx="686.4" cy="1387.7" rx="7.4" ry="8"/><ellipse cx="691.4" cy="1387.7" rx="7.4" ry="8"/><ellipse cx="696.4" cy="1387.7" rx="7.4" ry="8"/><ellipse cx="701.4" cy="1387.7" rx="7.4" ry="8"/><ellipse cx="706.4" cy="1387.7" rx="7.4" ry="8"/><ellipse cx="711.4" cy="1387.7" rx="7.4" ry="8"/><ellipse cx="716.4" cy="1387.7" rx="7.4" ry="8"/><ellipse cx="721.4" cy="1387.7" rx="7.4" ry="8"/><ellipse cx="726.4" cy="1387.7" rx="7.4" ry="8"/><ellipse cx="731.4" cy="1387.7" rx="7.4" ry="8"/><ellipse cx="736.4" cy="1387.7" rx="7.4" ry="8"/><ellipse cx="741.4" cy="1387.7" rx="7.4" ry="8"/><ellipse cx="746.4" cy="1387.7" rx="7.4" ry="8"/><ellipse cx="751.4" cy="1387.7" rx="7.4" ry="8"/><ellipse cx="756.4" cy="1387.7" rx="7.4" ry="8"/><ellipse cx="761.4" cy="1387.7" rx="7.4" ry="8"/><ellipse cx="766.4" cy="1387.7" rx="7.4" ry="8"/><ellipse cx="771.4" cy="1387.7" rx="7.4" ry="8"/><ellipse cx="776.4" cy="1387.7" rx="7.4" ry="8"/><ellipse cx="668.9" cy="1392.0" rx="7.4" ry="8"/><ellipse cx="673.9" cy="1392.0" rx="7.4" ry="8"/><ellipse cx="678.9" cy="1392.0" rx="7.4" ry="8"/><ellipse cx="683.9" cy="1392.0" rx="7.4" ry="8"/><ellipse cx="688.9" cy="1392.0" rx="7.4" ry="8"/><ellipse cx="693.9" cy="1392.0" rx="7.4" ry="8"/><ellipse cx="698.9" cy="1392.0" rx="7.4" ry="8"/><ellipse cx="703.9" cy="1392.0" rx="7.4" ry="8"/><ellipse cx="708.9" cy="1392.0" rx="7.4" ry="8"/><ellipse cx="713.9" cy="1392.0" rx="7.4" ry="8"/><ellipse cx="718.9" cy="1392.0" rx="7.4" ry="8"/><ellipse cx="723.9" cy="1392.0" rx="7.4" ry="8"/><ellipse cx="728.9" cy="1392.0" rx="7.4" ry="8"/><ellipse cx="733.9" cy="1392.0" rx="7.4" ry="8"/><ellipse cx="738.9" cy="1392.0" rx="7.4" ry="8"/><ellipse cx="743.9" cy="1392.0" rx="7.4" ry="8"/><ellipse cx="748.9" cy="1392.0" rx="7.4" ry="8"/><ellipse cx="753.9" cy="1392.0" rx="7.4" ry="8"/><ellipse cx="758.9" cy="1392.0" rx="7.4" ry="8"/><ellipse cx="763.9" cy="1392.0" rx="7.4" ry="8"/><ellipse cx="768.9" cy="1392.0" rx="7.4" ry="8"/><ellipse cx="773.9" cy="1392.0" rx="7.4" ry="8"/></g>
<g class="r"><ellipse cx="1363.9" cy="1366.5" rx="7.4" ry="8"/><ellipse cx="1368.9" cy="1365.3" rx="7.4" ry="8"/><ellipse cx="1373.9" cy="1366.6" rx="7.4" ry="8"/><ellipse cx="1378.9" cy="1366.9" rx="7.4" ry="8"/><ellipse cx="1360.0" cy="1370.4" rx="7.4" ry="8"/><ellipse cx="1355.9" cy="1373.2" rx="7.4" ry="8"/><ellipse cx="1352.0" cy="1376.4" rx="7.4" ry="8"/><ellipse cx="1346.8" cy="1377.7" rx="7.4" ry="8"/><ellipse cx="1342.6" cy="1380.4" rx="7.4" ry="8"/><ellipse cx="1339.7" cy="1385.0" rx="7.4" ry="8"/><ellipse cx="1335.2" cy="1387.3" rx="7.4" ry="8"/><ellipse cx="1331.2" cy="1390.3" rx="7.4" ry="8"/><ellipse cx="1327.3" cy="1393.5" rx="7.4" ry="8"/><ellipse cx="1321.8" cy="1394.3" rx="7.4" ry="8"/><ellipse cx="1378.1" cy="1374.3" rx="7.4" ry="8"/><ellipse cx="1374.4" cy="1377.8" rx="7.4" ry="8"/><ellipse cx="1370.4" cy="1380.8" rx="7.4" ry="8"/><ellipse cx="1364.9" cy="1381.6" rx="7.4" ry="8"/><ellipse cx="1360.9" cy="1384.6" rx="7.4" ry="8"/><ellipse cx="1357.2" cy="1388.1" rx="7.4" ry="8"/><ellipse cx="1352.8" cy="1390.4" rx="7.4" ry="8"/><ellipse cx="1349.6" cy="1394.7" rx="7.4" ry="8"/><ellipse cx="1347.1" cy="1394.9" rx="7.4" ry="8"/><ellipse cx="1311.0" cy="1411.1" rx="7.4" ry="8"/><ellipse cx="1314.9" cy="1412.3" rx="7.4" ry="8"/><ellipse cx="1319.0" cy="1410.4" rx="7.4" ry="8"/><ellipse cx="1322.9" cy="1410.6" rx="7.4" ry="8"/><ellipse cx="1326.9" cy="1412.1" rx="7.4" ry="8"/><ellipse cx="1330.2" cy="1410.2" rx="7.4" ry="8"/><ellipse cx="1334.2" cy="1408.6" rx="7.4" ry="8"/><ellipse cx="1336.9" cy="1405.8" rx="7.4" ry="8"/><ellipse cx="1339.7" cy="1402.8" rx="7.4" ry="8"/><ellipse cx="1343.5" cy="1401.2" rx="7.4" ry="8"/><ellipse cx="1345.2" cy="1396.9" rx="7.4" ry="8"/><ellipse cx="1349.5" cy="1395.8" rx="7.4" ry="8"/><ellipse cx="1351.3" cy="1391.7" rx="7.4" ry="8"/><ellipse cx="1355.2" cy="1390.1" rx="7.4" ry="8"/><ellipse cx="1359.1" cy="1389.1" rx="7.4" ry="8"/><ellipse cx="1361.7" cy="1388.0" rx="7.4" ry="8"/><ellipse cx="1365.5" cy="1385.5" rx="7.4" ry="8"/><ellipse cx="1321.3" cy="1403.4" rx="7.4" ry="8"/><ellipse cx="1324.8" cy="1401.4" rx="7.4" ry="8"/><ellipse cx="1327.4" cy="1398.0" rx="7.4" ry="8"/><ellipse cx="1330.3" cy="1395.5" rx="7.4" ry="8"/><ellipse cx="1334.5" cy="1394.3" rx="7.4" ry="8"/><ellipse cx="1336.9" cy="1390.8" rx="7.4" ry="8"/><ellipse cx="1341.3" cy="1390.2" rx="7.4" ry="8"/><ellipse cx="1343.3" cy="1386.0" rx="7.4" ry="8"/><ellipse cx="1347.4" cy="1385.0" rx="7.4" ry="8"/><ellipse cx="1350.7" cy="1382.6" rx="7.4" ry="8"/><ellipse cx="1366.5" cy="1371.7" rx="7.4" ry="8"/><ellipse cx="1362.5" cy="1374.8" rx="7.4" ry="8"/><ellipse cx="1358.6" cy="1378.0" rx="7.4" ry="8"/><ellipse cx="1353.3" cy="1378.9" rx="7.4" ry="8"/><ellipse cx="1349.2" cy="1381.8" rx="7.4" ry="8"/><ellipse cx="1345.9" cy="1386.0" rx="7.4" ry="8"/><ellipse cx="1343.2" cy="1387.2" rx="7.4" ry="8"/></g>
<g class="b"><ellipse cx="1380.6" cy="1386.5" rx="7.4" ry="8"/><ellipse cx="1380.6" cy="1387.2" rx="7.4" ry="8"/></g>
<g stroke="#000" stroke-opacity="0.4" stroke-width="1.9" stroke-dasharray="1.8 4.12" fill="none"><g stroke-dashoffset="-2.2"><line x1="425.2" y1="60.4" x2="425.2" y2="1730.1"/><line x1="627.5" y1="60.4" x2="627.5" y2="1730.1"/><line x1="829.7" y1="60.4" x2="829.7" y2="1730.1"/><line x1="1031.9" y1="60.4" x2="1031.9" y2="1730.1"/><line x1="1234.2" y1="60.4" x2="1234.2" y2="1730.1"/><line x1="1436.4" y1="60.4" x2="1436.4" y2="1730.1"/><line x1="1638.6" y1="60.4" x2="1638.6" y2="1730.1"/></g><g stroke-dashoffset="-1.4"><line x1="223.0" y1="1491.6" x2="1840.85" y2="1491.6"/><line x1="223.0" y1="1253.0" x2="1840.85" y2="1253.0"/><line x1="223.0" y1="1014.5" x2="1840.85" y2="1014.5"/><line x1="223.0" y1="776.0" x2="1840.85" y2="776.0"/><line x1="223.0" y1="537.5" x2="1840.85" y2="537.5"/><line x1="223.0" y1="298.9" x2="1840.85" y2="298.9"/></g></g>
<rect x="225" y="1149" width="1616.5" height="275.5" fill="rgb(255,0,0)" fill-opacity="0.31"/>
<rect x="1047.8" y="1149" width="341.6" height="576.5" fill="rgb(68,114,196)" fill-opacity="0.30"/>
<g fill="none"><line x1="223" y1="59" x2="223" y2="1731.2" stroke="#858585" stroke-width="4"/><line x1="221.2" y1="60" x2="1842.6" y2="60" stroke="#303030" stroke-width="1.9"/><line x1="221.2" y1="1730" x2="1842.6" y2="1730" stroke="#303030" stroke-width="1.9"/><line x1="1841.5" y1="59" x2="1841.5" y2="1731.2" stroke="#303030" stroke-width="1.9"/></g><circle cx="134.5" cy="857.2" r="1.4" fill="#555"/>
<text class="tk" font-size="51.5" x="220.3" y="1510.0" text-anchor="end" textLength="80" lengthAdjust="spacingAndGlyphs">0.3</text>
<text class="tk" font-size="51.5" x="220.3" y="1271.4" text-anchor="end" textLength="80" lengthAdjust="spacingAndGlyphs">0.4</text>
<text class="tk" font-size="51.5" x="220.3" y="1032.9" text-anchor="end" textLength="80" lengthAdjust="spacingAndGlyphs">0.5</text>
<text class="tk" font-size="51.5" x="220.3" y="794.4" text-anchor="end" textLength="80" lengthAdjust="spacingAndGlyphs">0.6</text>
<text class="tk" font-size="51.5" x="220.3" y="555.9" text-anchor="end" textLength="80" lengthAdjust="spacingAndGlyphs">0.7</text>
<text class="tk" font-size="51.5" x="220.3" y="317.3" text-anchor="end" textLength="80" lengthAdjust="spacingAndGlyphs">0.8</text>
<text class="tk" font-size="51.5" x="220.3" y="78.8" text-anchor="end" textLength="80" lengthAdjust="spacingAndGlyphs">0.9</text>
<text class="tkb" x="219.5" y="1729.6" font-size="59" text-anchor="end">0.2</text>
<text class="tk" font-size="51.5" x="424.2" y="1773.8" text-anchor="middle" textLength="128" lengthAdjust="spacingAndGlyphs">1000</text>
<text class="tk" font-size="51.5" x="626.5" y="1773.8" text-anchor="middle" textLength="128" lengthAdjust="spacingAndGlyphs">1100</text>
<text class="tk" font-size="51.5" x="828.7" y="1773.8" text-anchor="middle" textLength="128" lengthAdjust="spacingAndGlyphs">1200</text>
<text class="tk" font-size="51.5" x="1030.9" y="1773.8" text-anchor="middle" textLength="128" lengthAdjust="spacingAndGlyphs">1300</text>
<text class="tk" font-size="51.5" x="1233.2" y="1773.8" text-anchor="middle" textLength="128" lengthAdjust="spacingAndGlyphs">1400</text>
<text class="tk" font-size="51.5" x="1435.4" y="1773.8" text-anchor="middle" textLength="128" lengthAdjust="spacingAndGlyphs">1500</text>
<text class="tk" font-size="51.5" x="1637.6" y="1773.8" text-anchor="middle" textLength="128" lengthAdjust="spacingAndGlyphs">1600</text>
<text class="tk" font-size="51.5" x="1839.8" y="1773.8" text-anchor="middle" textLength="128" lengthAdjust="spacingAndGlyphs">1700</text>
<text class="tk" x="253.3" y="1775.3" font-size="51.5" text-anchor="middle" stroke="#000" stroke-width="1.3" stroke-linejoin="round" textLength="100.5" lengthAdjust="spacingAndGlyphs">900</text>
<text class="ax" x="1017.3" y="1856" font-size="62" text-anchor="middle">Local temperature at the point of maximum soot mass fraction, K</text>
<text class="ax" transform="translate(106.4,935.4) rotate(-90)" font-size="62" text-anchor="middle">Local C/O ratio at the point of maximum soot mass fraction</text>
<text class="ax"><tspan x="938.5" y="2024.3" font-size="77" textLength="26" lengthAdjust="spacingAndGlyphs">(</tspan><tspan x="966" y="2033.2" font-size="92" textLength="36" lengthAdjust="spacingAndGlyphs">c</tspan><tspan x="1001.3" y="2024.3" font-size="77" textLength="26" lengthAdjust="spacingAndGlyphs">)</tspan></text>
<text fill="#00b050" style="font-family:'Liberation Sans',sans-serif;font-weight:bold" font-size="129" y="238"><tspan x="1506" textLength="69" lengthAdjust="spacingAndGlyphs">1</tspan><tspan x="1570.5" textLength="102" lengthAdjust="spacingAndGlyphs">0 </tspan><tspan x="1672.5" textLength="69" lengthAdjust="spacingAndGlyphs">s</tspan></text>
<rect x="1500" y="221.5" width="34.9" height="20.5" fill="#fff"/><rect x="1551.6" y="221.5" width="21.4" height="20.5" fill="#fff"/>
<rect x="349.6" y="127.5" width="534.8" height="127" fill="none" stroke="#0000ff" stroke-width="2.2"/>
<rect x="1235.5" y="805.1" width="535.6" height="126.7" fill="none" stroke="#ff0000" stroke-width="2.2"/>
<g fill="#0000ff"><text><tspan class="mi" x="401.0" y="217.8" font-size="77" textLength="66" lengthAdjust="spacingAndGlyphs">m</tspan><tspan class="mi" x="467.5" y="231.9" font-size="66" textLength="101" lengthAdjust="spacingAndGlyphs">soot</tspan><tspan class="mi" x="570.5" y="230.5" font-size="58" textLength="14" lengthAdjust="spacingAndGlyphs">,</tspan><tspan class="mr" x="584.0" y="231.9" font-size="50" textLength="28" lengthAdjust="spacingAndGlyphs" style="font-weight:bold">Σ</tspan><tspan class="mr" x="618.0" y="216.0" font-size="72" textLength="26" lengthAdjust="spacingAndGlyphs">(</tspan><tspan class="mi" x="645.0" y="218.2" font-size="74" textLength="27" lengthAdjust="spacingAndGlyphs">t</tspan><tspan class="mr" x="672.5" y="216.0" font-size="72" textLength="26" lengthAdjust="spacingAndGlyphs">)</tspan><tspan class="mr" x="700.0" y="223.0" font-size="78" textLength="71" lengthAdjust="spacingAndGlyphs"> &lt;</tspan><tspan class="mr" x="776.3" y="218.4" font-size="70" textLength="53.5" lengthAdjust="spacingAndGlyphs"> 0</tspan></text><circle cx="551.7" cy="155.8" r="3.4"/></g>
<g fill="#ff0000"><text><tspan class="mi" x="1287.0" y="895.4" font-size="77" textLength="66" lengthAdjust="spacingAndGlyphs">m</tspan><tspan class="mi" x="1353.5" y="909.5" font-size="66" textLength="101" lengthAdjust="spacingAndGlyphs">soot</tspan><tspan class="mi" x="1456.5" y="908.1" font-size="58" textLength="14" lengthAdjust="spacingAndGlyphs">,</tspan><tspan class="mr" x="1470.0" y="909.5" font-size="50" textLength="28" lengthAdjust="spacingAndGlyphs" style="font-weight:bold">Σ</tspan><tspan class="mr" x="1504.0" y="893.6" font-size="72" textLength="26" lengthAdjust="spacingAndGlyphs">(</tspan><tspan class="mi" x="1531.0" y="895.8" font-size="74" textLength="27" lengthAdjust="spacingAndGlyphs">t</tspan><tspan class="mr" x="1558.5" y="893.6" font-size="72" textLength="26" lengthAdjust="spacingAndGlyphs">)</tspan><tspan class="mr" x="1586.0" y="900.6" font-size="78" textLength="71" lengthAdjust="spacingAndGlyphs"> &gt;</tspan><tspan class="mr" x="1662.3" y="896.0" font-size="70" textLength="53.5" lengthAdjust="spacingAndGlyphs"> 0</tspan></text><circle cx="1437.7" cy="833.4" r="3.4"/></g>
</g>
</svg></body></html>
